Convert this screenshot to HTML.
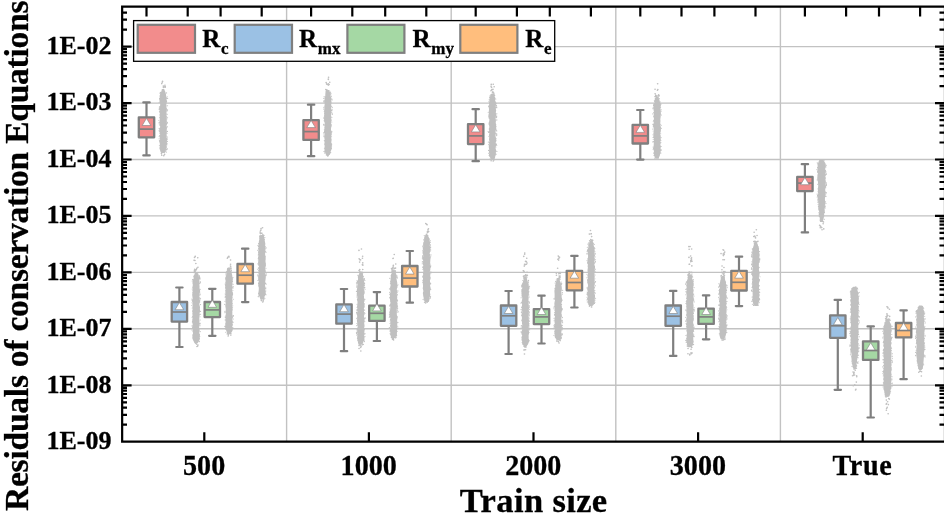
<!DOCTYPE html><html><head><meta charset="utf-8"><title>Residuals of conservation Equations</title>
<style>html,body{margin:0;padding:0;background:#fff;overflow:hidden}svg{display:block}text{font-family:"Liberation Serif","Times New Roman",serif;font-weight:bold;fill:#000;stroke:#000;stroke-width:.3px}</style></head><body>
<svg width="944" height="524" viewBox="0 0 944 524">
<rect width="944" height="524" fill="#fff"/>
<path d="M122.0 385.3H944M122.0 328.8H944M122.0 272.4H944M122.0 215.9H944M122.0 159.5H944M122.0 103.1H944M122.0 46.6H944M286.6 6.6V441.7M451.2 6.6V441.7M615.8 6.6V441.7M780.4 6.6V441.7" stroke="#C2C2C2" stroke-width="1.4" fill="none"/>
<path d="M161.8 89.0L161.6 90.5L161.1 92.0L160.3 93.6L159.9 95.1L159.6 96.6L159.7 98.1L159.4 99.7L159.9 101.2L159.8 102.7L160.2 104.2L160.1 105.8L159.4 107.3L159.6 108.8L159.5 110.3L159.9 111.9L159.8 113.4L159.4 114.9L159.9 116.4L159.6 118.0L159.7 119.5L160.0 121.0L159.5 122.5L159.8 124.0L160.0 125.6L160.2 127.1L159.7 128.6L159.4 130.1L159.3 131.7L160.0 133.2L160.1 134.7L159.9 136.2L159.8 137.8L160.1 139.3L159.7 140.8L159.4 142.3L159.9 143.9L160.0 145.4L159.6 146.9L159.4 148.4L160.0 150.0L160.4 151.5L161.3 153.0L164.6 153.0L165.9 151.5L165.8 150.0L166.6 148.4L166.9 146.9L166.6 145.4L167.2 143.9L166.9 142.3L166.9 140.8L167.2 139.3L166.7 137.8L166.8 136.2L166.6 134.7L166.8 133.2L166.9 131.7L166.7 130.1L167.0 128.6L166.4 127.1L166.6 125.6L167.1 124.0L166.8 122.5L166.9 121.0L166.6 119.5L166.8 118.0L166.7 116.4L166.5 114.9L166.4 113.4L166.6 111.9L166.8 110.3L167.0 108.8L166.4 107.3L166.6 105.8L166.3 104.2L166.7 102.7L167.2 101.2L166.5 99.7L167.0 98.1L166.1 96.6L166.1 95.1L165.8 93.6L165.4 92.0L164.7 90.5L164.2 89.0ZM195.0 272.5L194.7 274.0L193.7 275.5L193.5 277.0L193.7 278.5L192.6 280.0L192.7 281.5L192.4 283.0L192.8 284.6L192.7 286.1L192.2 287.6L192.8 289.1L192.3 290.6L192.9 292.1L192.3 293.6L192.2 295.1L192.4 296.6L192.6 298.1L192.9 299.6L192.3 301.1L192.7 302.6L192.3 304.1L192.8 305.6L192.3 307.1L192.8 308.7L192.3 310.2L192.3 311.7L192.6 313.2L192.7 314.7L192.4 316.2L192.7 317.7L192.3 319.2L192.2 320.7L192.5 322.2L192.9 323.7L192.7 325.2L192.5 326.7L192.4 328.2L192.9 329.7L192.4 331.2L193.0 332.8L192.9 334.3L192.6 335.8L192.6 337.3L192.9 338.8L193.1 340.3L193.9 341.8L194.5 343.3L197.6 343.3L198.7 341.8L199.4 340.3L200.0 338.8L199.7 337.3L200.0 335.8L199.6 334.3L199.3 332.8L199.6 331.2L199.7 329.7L199.2 328.2L199.2 326.7L199.4 325.2L199.5 323.7L199.5 322.2L199.4 320.7L199.3 319.2L199.4 317.7L199.3 316.2L200.0 314.7L199.5 313.2L200.0 311.7L200.0 310.2L199.9 308.7L200.0 307.1L199.6 305.6L199.3 304.1L199.8 302.6L200.0 301.1L199.4 299.6L200.0 298.1L199.3 296.6L199.9 295.1L199.4 293.6L200.1 292.1L200.1 290.6L199.7 289.1L199.5 287.6L199.6 286.1L199.2 284.6L199.5 283.0L199.5 281.5L199.3 280.0L199.3 278.5L198.7 277.0L198.8 275.5L198.4 274.0L197.1 272.5ZM228.2 269.0L226.9 270.5L226.9 272.0L226.9 273.5L226.3 275.0L225.8 276.6L225.1 278.1L225.3 279.6L225.7 281.1L225.2 282.6L225.7 284.1L225.2 285.6L225.6 287.1L225.4 288.7L225.6 290.2L225.4 291.7L226.0 293.2L225.9 294.7L225.3 296.2L226.0 297.7L225.4 299.2L225.5 300.7L225.5 302.3L225.7 303.8L225.3 305.3L225.4 306.8L225.7 308.3L225.8 309.8L225.6 311.3L226.0 312.8L225.8 314.3L225.3 315.9L225.4 317.4L225.5 318.9L225.3 320.4L225.7 321.9L225.2 323.4L225.3 324.9L225.2 326.4L225.2 328.0L226.0 329.5L226.3 331.0L227.0 332.5L227.2 334.0L231.0 334.0L231.3 332.5L232.4 331.0L232.8 329.5L232.5 328.0L232.1 326.4L233.0 324.9L232.5 323.4L233.0 321.9L232.5 320.4L232.3 318.9L233.0 317.4L232.8 315.9L232.3 314.3L232.4 312.8L232.3 311.3L232.8 309.8L232.3 308.3L232.5 306.8L232.1 305.3L232.9 303.8L232.3 302.3L232.7 300.7L232.1 299.2L232.7 297.7L232.3 296.2L232.5 294.7L232.7 293.2L232.5 291.7L232.1 290.2L232.3 288.7L232.6 287.1L232.2 285.6L232.7 284.1L232.3 282.6L232.4 281.1L232.9 279.6L232.8 278.1L232.3 276.6L232.2 275.0L231.8 273.5L231.4 272.0L230.6 270.5L230.1 269.0ZM260.7 235.0L259.7 236.5L259.4 238.0L259.4 239.5L258.9 241.0L258.8 242.5L258.6 244.0L258.4 245.5L258.6 247.0L258.2 248.5L258.7 250.0L258.2 251.5L258.1 253.0L258.4 254.5L258.4 256.0L258.0 257.5L258.1 259.0L258.7 260.5L258.0 262.0L258.3 263.5L258.1 265.0L258.9 266.5L258.7 268.1L258.9 269.6L258.9 271.1L258.1 272.6L258.8 274.1L258.3 275.6L258.1 277.1L258.2 278.6L258.1 280.1L258.8 281.6L258.2 283.1L258.3 284.6L258.2 286.1L258.8 287.6L258.8 289.1L258.7 290.6L258.5 292.1L258.3 293.6L258.6 295.1L259.4 296.6L260.0 298.1L260.3 299.6L263.8 299.6L264.5 298.1L264.5 296.6L265.4 295.1L265.8 293.6L265.6 292.1L265.1 290.6L265.2 289.1L265.6 287.6L265.1 286.1L265.0 284.6L265.5 283.1L265.2 281.6L265.5 280.1L265.7 278.6L265.8 277.1L265.7 275.6L265.1 274.1L265.7 272.6L265.8 271.1L265.4 269.6L265.2 268.1L265.7 266.5L265.8 265.0L265.9 263.5L265.5 262.0L265.5 260.5L265.7 259.0L265.6 257.5L265.5 256.0L265.1 254.5L265.1 253.0L265.4 251.5L265.4 250.0L265.7 248.5L265.4 247.0L265.0 245.5L265.4 244.0L265.1 242.5L264.8 241.0L264.6 239.5L264.3 238.0L264.1 236.5L263.5 235.0ZM326.2 90.0L325.6 91.5L325.4 93.0L325.3 94.5L325.3 96.0L324.6 97.5L324.6 99.1L324.5 100.6L324.2 102.1L324.7 103.6L324.6 105.1L324.3 106.6L324.4 108.1L324.3 109.6L324.1 111.1L324.2 112.6L324.7 114.1L324.0 115.7L324.2 117.2L324.0 118.7L324.1 120.2L324.6 121.7L324.8 123.2L324.2 124.7L324.6 126.2L324.3 127.7L324.5 129.2L324.1 130.8L323.9 132.3L324.6 133.8L324.4 135.3L324.3 136.8L324.4 138.3L324.6 139.8L324.3 141.3L324.6 142.8L324.1 144.3L324.7 145.8L324.5 147.4L324.5 148.9L324.4 150.4L325.0 151.9L325.4 153.4L326.4 154.9L329.6 154.9L330.5 153.4L330.4 151.9L331.1 150.4L331.5 148.9L331.7 147.4L331.6 145.8L331.5 144.3L331.3 142.8L331.4 141.3L331.7 139.8L331.3 138.3L331.0 136.8L331.5 135.3L331.5 133.8L331.3 132.3L331.2 130.8L331.0 129.2L331.1 127.7L331.6 126.2L331.8 124.7L331.0 123.2L331.0 121.7L331.8 120.2L331.2 118.7L331.4 117.2L331.1 115.7L331.0 114.1L331.5 112.6L331.1 111.1L331.7 109.6L331.0 108.1L331.6 106.6L331.1 105.1L331.5 103.6L331.0 102.1L331.2 100.6L331.6 99.1L331.1 97.5L330.5 96.0L330.3 94.5L330.4 93.0L329.4 91.5L329.5 90.0ZM359.3 272.5L359.1 274.0L358.1 275.5L357.8 277.0L358.1 278.5L357.9 280.0L356.8 281.5L357.3 283.0L357.7 284.5L357.2 286.0L357.4 287.5L356.9 289.0L356.8 290.5L356.9 292.0L356.9 293.5L356.9 295.0L357.4 296.5L357.5 298.0L356.8 299.5L357.4 301.0L357.5 302.5L357.4 304.0L357.2 305.5L357.0 307.0L357.4 308.6L356.8 310.1L357.5 311.6L357.1 313.1L356.9 314.6L357.2 316.1L357.1 317.6L357.2 319.1L356.9 320.6L357.1 322.1L357.4 323.6L357.1 325.1L357.7 326.6L357.3 328.1L356.9 329.6L357.4 331.1L357.1 332.6L357.7 334.1L357.3 335.6L357.2 337.1L357.1 338.6L357.5 340.1L358.1 341.6L357.9 343.1L359.1 344.6L362.4 344.6L363.0 343.1L363.5 341.6L364.5 340.1L364.4 338.6L364.6 337.1L364.1 335.6L364.5 334.1L364.3 332.6L364.5 331.1L364.7 329.6L364.1 328.1L364.5 326.6L364.5 325.1L364.2 323.6L364.4 322.1L364.5 320.6L364.4 319.1L364.3 317.6L363.9 316.1L364.6 314.6L364.5 313.1L363.9 311.6L364.4 310.1L363.8 308.6L364.7 307.0L364.6 305.5L364.4 304.0L363.9 302.5L364.6 301.0L364.5 299.5L364.0 298.0L364.0 296.5L363.8 295.0L364.6 293.5L364.7 292.0L364.4 290.5L363.8 289.0L364.0 287.5L363.9 286.0L364.2 284.5L364.6 283.0L364.1 281.5L363.9 280.0L363.7 278.5L363.0 277.0L363.0 275.5L363.0 274.0L362.0 272.5ZM392.1 271.0L392.0 272.5L391.3 274.0L390.6 275.6L390.9 277.1L390.5 278.6L390.6 280.1L390.0 281.7L390.5 283.2L390.5 284.7L390.6 286.2L390.1 287.8L390.0 289.3L390.3 290.8L390.5 292.3L389.7 293.8L389.9 295.4L389.9 296.9L389.9 298.4L390.1 299.9L390.1 301.5L390.6 303.0L389.7 304.5L390.3 306.0L390.3 307.5L390.4 309.1L389.8 310.6L389.7 312.1L389.7 313.6L390.0 315.2L389.8 316.7L390.5 318.2L389.8 319.7L390.5 321.2L390.2 322.8L390.5 324.3L389.9 325.8L390.4 327.3L390.1 328.9L389.9 330.4L390.2 331.9L390.6 333.4L390.7 335.0L390.8 336.5L391.8 338.0L395.3 338.0L395.9 336.5L396.9 335.0L396.9 333.4L397.0 331.9L397.0 330.4L397.3 328.9L397.0 327.3L397.4 325.8L397.2 324.3L397.5 322.8L397.1 321.2L397.2 319.7L397.5 318.2L397.6 316.7L396.9 315.2L396.8 313.6L396.9 312.1L396.8 310.6L396.7 309.1L397.3 307.5L397.5 306.0L397.5 304.5L397.6 303.0L396.7 301.5L397.6 299.9L397.1 298.4L397.3 296.9L397.0 295.4L396.8 293.8L397.3 292.3L397.0 290.8L396.8 289.3L397.2 287.8L397.0 286.2L397.2 284.7L397.3 283.2L397.1 281.7L396.7 280.1L396.5 278.6L396.6 277.1L396.4 275.6L396.3 274.0L395.4 272.5L394.7 271.0ZM425.4 235.0L424.5 236.5L424.1 238.0L424.1 239.6L424.1 241.1L423.3 242.6L423.1 244.1L423.1 245.7L423.3 247.2L422.7 248.7L423.3 250.2L422.6 251.8L422.7 253.3L423.2 254.8L423.3 256.3L422.8 257.8L422.7 259.4L423.3 260.9L422.8 262.4L422.7 263.9L423.3 265.5L422.9 267.0L423.0 268.5L423.2 270.0L423.4 271.5L422.9 273.1L423.2 274.6L422.6 276.1L423.0 277.6L423.0 279.2L422.7 280.7L422.8 282.2L422.8 283.7L423.0 285.2L423.0 286.8L422.7 288.3L423.1 289.8L423.4 291.3L422.8 292.9L423.1 294.4L423.2 295.9L423.6 297.4L423.8 299.0L424.5 300.5L425.0 302.0L428.3 302.0L429.3 300.5L429.6 299.0L429.6 297.4L430.1 295.9L430.4 294.4L430.0 292.9L430.1 291.3L430.2 289.8L430.3 288.3L430.3 286.8L430.1 285.2L430.2 283.7L430.1 282.2L429.9 280.7L430.4 279.2L430.5 277.6L430.2 276.1L430.4 274.6L430.3 273.1L429.8 271.5L430.4 270.0L430.2 268.5L430.4 267.0L430.0 265.5L429.9 263.9L430.2 262.4L430.3 260.9L430.4 259.4L430.4 257.8L429.8 256.3L430.2 254.8L429.6 253.3L430.2 251.8L430.3 250.2L430.4 248.7L430.2 247.2L429.7 245.7L430.0 244.1L430.2 242.6L429.5 241.1L429.5 239.6L429.1 238.0L428.4 236.5L427.9 235.0ZM491.3 93.8L490.6 95.3L489.9 96.9L489.5 98.4L489.3 99.9L489.4 101.5L488.8 103.0L489.2 104.5L488.5 106.0L488.7 107.6L489.0 109.1L488.9 110.6L488.8 112.2L488.8 113.7L488.5 115.2L488.7 116.8L489.1 118.3L489.4 119.8L489.2 121.3L488.6 122.9L488.6 124.4L489.3 125.9L489.3 127.5L488.7 129.0L489.2 130.5L488.9 132.1L489.4 133.6L488.9 135.1L489.3 136.6L489.1 138.2L489.0 139.7L489.4 141.2L488.9 142.8L489.4 144.3L488.8 145.8L488.8 147.4L489.1 148.9L489.2 150.4L488.8 151.9L489.3 153.5L488.9 155.0L489.3 156.5L490.4 158.1L491.0 159.6L494.3 159.6L495.0 158.1L495.2 156.5L495.8 155.0L495.8 153.5L495.9 151.9L496.2 150.4L495.7 148.9L495.6 147.4L496.0 145.8L496.0 144.3L495.7 142.8L496.1 141.2L496.3 139.7L496.1 138.2L495.6 136.6L495.5 135.1L495.9 133.6L495.5 132.1L495.7 130.5L496.4 129.0L496.0 127.5L496.1 125.9L496.3 124.4L495.7 122.9L495.9 121.3L495.9 119.8L495.5 118.3L495.8 116.8L496.3 115.2L496.0 113.7L495.8 112.2L496.2 110.6L495.8 109.1L496.0 107.6L495.7 106.0L496.2 104.5L496.3 103.0L495.6 101.5L495.0 99.9L495.5 98.4L495.0 96.9L493.9 95.3L494.2 93.8ZM524.5 276.5L523.1 278.0L523.6 279.5L523.1 281.0L522.7 282.5L521.8 284.1L521.5 285.6L522.2 287.1L522.2 288.6L521.4 290.1L522.1 291.6L521.4 293.1L521.6 294.6L521.5 296.1L522.3 297.7L522.2 299.2L521.8 300.7L521.8 302.2L522.0 303.7L522.1 305.2L521.5 306.7L521.8 308.2L521.7 309.7L522.3 311.2L522.1 312.8L521.6 314.3L521.5 315.8L521.9 317.3L521.9 318.8L521.4 320.3L522.0 321.8L521.9 323.3L522.3 324.8L522.0 326.4L521.7 327.9L522.3 329.4L521.7 330.9L521.5 332.4L521.4 333.9L522.2 335.4L521.9 336.9L521.6 338.4L521.5 340.0L522.2 341.5L522.0 343.0L522.8 344.5L523.8 346.0L526.8 346.0L527.9 344.5L528.5 343.0L529.1 341.5L529.2 340.0L528.6 338.4L528.7 336.9L528.6 335.4L528.9 333.9L529.3 332.4L528.8 330.9L528.7 329.4L528.8 327.9L528.8 326.4L529.2 324.8L529.0 323.3L528.9 321.8L529.0 320.3L528.7 318.8L528.8 317.3L528.4 315.8L528.6 314.3L528.6 312.8L529.2 311.2L528.6 309.7L529.2 308.2L528.7 306.7L528.9 305.2L528.5 303.7L528.6 302.2L528.5 300.7L528.5 299.2L528.7 297.7L528.4 296.1L528.8 294.6L528.9 293.1L529.0 291.6L528.6 290.1L529.3 288.6L529.0 287.1L528.7 285.6L528.7 284.1L527.9 282.5L527.6 281.0L527.1 279.5L526.8 278.0L526.5 276.5ZM557.2 279.0L556.8 280.5L555.8 282.0L555.8 283.5L555.1 285.0L555.3 286.5L555.1 288.0L554.6 289.5L554.4 291.0L554.5 292.5L554.6 294.0L554.6 295.5L554.6 297.0L554.4 298.5L555.0 300.0L554.7 301.5L554.4 303.0L554.7 304.5L554.3 306.0L554.7 307.5L554.7 309.0L554.4 310.6L555.0 312.1L554.9 313.6L554.3 315.1L555.1 316.6L554.5 318.1L554.5 319.6L554.5 321.1L554.6 322.6L554.8 324.1L554.5 325.6L554.6 327.1L555.2 328.6L555.0 330.1L554.5 331.6L554.4 333.1L555.0 334.6L554.6 336.1L554.9 337.6L556.1 339.1L556.6 340.6L560.0 340.6L561.1 339.1L560.9 337.6L561.8 336.1L561.9 334.6L561.3 333.1L561.4 331.6L561.8 330.1L562.1 328.6L561.8 327.1L562.2 325.6L561.3 324.1L561.5 322.6L561.8 321.1L561.4 319.6L561.4 318.1L561.6 316.6L561.9 315.1L561.4 313.6L561.6 312.1L562.0 310.6L562.1 309.0L561.9 307.5L561.8 306.0L561.3 304.5L561.4 303.0L562.0 301.5L562.0 300.0L562.0 298.5L561.6 297.0L561.7 295.5L561.5 294.0L561.4 292.5L561.3 291.0L561.8 289.5L561.8 288.0L561.7 286.5L561.1 285.0L561.0 283.5L560.3 282.0L559.8 280.5L559.9 279.0ZM589.4 240.4L589.4 241.9L589.2 243.4L588.2 245.0L588.4 246.5L588.2 248.0L587.3 249.5L587.2 251.1L587.8 252.6L587.7 254.1L588.1 255.6L588.0 257.2L587.7 258.7L588.0 260.2L588.0 261.7L587.4 263.2L587.9 264.8L587.6 266.3L587.9 267.8L587.6 269.3L587.5 270.9L587.8 272.4L587.9 273.9L588.0 275.4L587.4 277.0L588.0 278.5L587.2 280.0L587.4 281.5L587.4 283.1L587.9 284.6L588.0 286.1L587.4 287.6L587.4 289.1L587.5 290.7L588.1 292.2L587.5 293.7L587.8 295.2L587.5 296.8L587.8 298.3L587.7 299.8L587.9 301.3L588.0 302.9L588.8 304.4L589.2 305.9L592.3 305.9L593.9 304.4L594.0 302.9L594.9 301.3L594.7 299.8L594.9 298.3L595.0 296.8L595.0 295.2L594.5 293.7L595.0 292.2L594.2 290.7L594.3 289.1L595.0 287.6L594.3 286.1L594.8 284.6L594.9 283.1L594.6 281.5L594.7 280.0L594.3 278.5L594.8 277.0L594.5 275.4L594.6 273.9L594.3 272.4L595.0 270.9L594.6 269.3L595.0 267.8L595.0 266.3L594.3 264.8L594.9 263.2L594.3 261.7L594.8 260.2L594.9 258.7L594.3 257.2L595.0 255.6L594.5 254.1L594.5 252.6L594.7 251.1L594.6 249.5L594.7 248.0L594.0 246.5L593.6 245.0L593.3 243.4L593.1 241.9L592.3 240.4ZM656.1 96.7L654.9 98.2L654.7 99.7L654.2 101.2L654.6 102.7L653.4 104.3L653.2 105.8L653.6 107.3L653.5 108.8L653.6 110.3L653.9 111.8L653.8 113.3L653.9 114.8L653.1 116.4L653.9 117.9L653.9 119.4L653.9 120.9L653.7 122.4L653.4 123.9L653.4 125.4L653.5 126.9L653.7 128.5L653.8 130.0L654.0 131.5L653.3 133.0L653.5 134.5L653.3 136.0L653.9 137.5L653.8 139.0L653.9 140.6L653.6 142.1L653.8 143.6L653.7 145.1L653.6 146.6L653.2 148.1L653.7 149.6L653.9 151.1L653.9 152.7L654.1 154.2L653.9 155.7L655.0 157.2L655.2 158.7L658.8 158.7L659.0 157.2L659.8 155.7L660.1 154.2L660.7 152.7L660.5 151.1L660.6 149.6L660.6 148.1L661.0 146.6L660.4 145.1L660.4 143.6L660.2 142.1L660.8 140.6L660.8 139.0L660.4 137.5L660.9 136.0L660.1 134.5L660.3 133.0L660.8 131.5L660.9 130.0L660.9 128.5L661.0 126.9L660.2 125.4L660.4 123.9L660.3 122.4L660.5 120.9L660.3 119.4L660.5 117.9L660.7 116.4L660.7 114.8L660.9 113.3L660.8 111.8L660.7 110.3L660.5 108.8L660.6 107.3L660.7 105.8L659.9 104.3L660.2 102.7L659.7 101.2L659.5 99.7L658.8 98.2L658.7 96.7ZM688.4 275.1L687.8 276.6L687.8 278.1L687.4 279.6L686.8 281.1L686.5 282.6L686.8 284.1L686.1 285.6L686.7 287.1L686.4 288.6L686.7 290.1L686.2 291.6L686.2 293.2L686.7 294.7L686.6 296.2L686.4 297.7L686.9 299.2L686.1 300.7L686.2 302.2L686.1 303.7L686.3 305.2L686.6 306.7L686.4 308.2L686.5 309.7L686.3 311.2L686.5 312.7L686.5 314.2L686.3 315.7L686.9 317.2L686.4 318.7L686.2 320.2L686.6 321.7L686.6 323.2L686.3 324.7L686.4 326.2L686.7 327.7L686.8 329.2L686.3 330.8L686.9 332.3L686.9 333.8L686.4 335.3L686.7 336.8L686.6 338.3L686.4 339.8L686.9 341.3L686.9 342.8L687.0 344.3L687.6 345.8L688.3 347.3L691.5 347.3L692.5 345.8L693.2 344.3L693.0 342.8L693.6 341.3L693.3 339.8L693.3 338.3L693.3 336.8L693.1 335.3L693.5 333.8L693.1 332.3L693.9 330.8L693.4 329.2L693.9 327.7L693.3 326.2L693.8 324.7L693.2 323.2L693.1 321.7L693.7 320.2L693.9 318.7L693.6 317.2L693.8 315.7L693.2 314.2L693.4 312.7L693.5 311.2L693.6 309.7L693.4 308.2L693.5 306.7L693.6 305.2L693.3 303.7L693.1 302.2L693.7 300.7L693.8 299.2L693.7 297.7L693.1 296.2L693.9 294.7L693.1 293.2L693.5 291.6L693.7 290.1L693.1 288.6L693.2 287.1L693.3 285.6L693.9 284.1L693.1 282.6L692.9 281.1L692.4 279.6L692.1 278.1L692.1 276.6L691.6 275.1ZM721.7 276.0L720.6 277.5L720.8 279.0L720.3 280.5L720.1 282.0L719.7 283.5L719.2 285.0L719.6 286.6L719.7 288.1L719.8 289.6L719.0 291.1L718.9 292.6L719.1 294.1L719.4 295.6L719.5 297.1L719.5 298.6L719.3 300.1L718.9 301.6L719.8 303.1L719.2 304.6L719.6 306.1L719.6 307.6L719.0 309.2L719.7 310.7L719.0 312.2L719.0 313.7L719.2 315.2L719.4 316.7L719.3 318.2L718.9 319.7L719.4 321.2L719.6 322.7L719.0 324.2L719.5 325.7L719.0 327.2L718.9 328.8L719.4 330.3L719.7 331.8L719.5 333.3L719.4 334.8L719.7 336.3L720.4 337.8L720.9 339.3L724.6 339.3L724.8 337.8L725.5 336.3L725.9 334.8L726.1 333.3L726.5 331.8L726.7 330.3L725.9 328.8L726.4 327.2L726.7 325.7L725.9 324.2L726.7 322.7L726.2 321.2L726.7 319.7L726.6 318.2L726.8 316.7L726.8 315.2L726.3 313.7L726.5 312.2L726.6 310.7L726.2 309.2L726.4 307.6L726.0 306.1L726.4 304.6L726.1 303.1L726.0 301.6L726.4 300.1L726.4 298.6L726.7 297.1L726.7 295.6L726.1 294.1L726.8 292.6L726.3 291.1L726.7 289.6L726.4 288.1L726.2 286.6L726.7 285.0L725.9 283.5L726.1 282.0L725.3 280.5L724.9 279.0L725.0 277.5L724.1 276.0ZM754.7 241.7L753.7 243.2L753.9 244.8L753.4 246.3L753.0 247.8L752.2 249.3L752.4 250.9L752.4 252.4L752.1 253.9L752.6 255.5L752.2 257.0L752.5 258.5L752.2 260.0L752.2 261.6L752.2 263.1L752.5 264.6L752.4 266.2L752.7 267.7L752.5 269.2L752.4 270.7L752.0 272.3L751.8 273.8L751.9 275.3L752.6 276.9L752.2 278.4L752.4 279.9L752.1 281.4L752.0 283.0L752.5 284.5L752.0 286.0L752.1 287.6L752.6 289.1L752.5 290.6L752.6 292.1L752.6 293.7L752.7 295.2L752.4 296.7L752.6 298.3L751.9 299.8L752.6 301.3L753.0 302.8L753.3 304.4L754.6 305.9L757.7 305.9L758.5 304.4L758.5 302.8L759.3 301.3L759.6 299.8L759.2 298.3L759.3 296.7L759.5 295.2L759.4 293.7L759.0 292.1L759.0 290.6L759.2 289.1L758.9 287.6L759.3 286.0L758.9 284.5L758.9 283.0L759.6 281.4L759.5 279.9L759.2 278.4L758.8 276.9L759.6 275.3L759.2 273.8L759.5 272.3L759.1 270.7L758.9 269.2L759.3 267.7L758.8 266.2L758.9 264.6L758.9 263.1L759.7 261.6L759.6 260.0L759.5 258.5L759.3 257.0L759.7 255.5L759.6 253.9L759.1 252.4L759.0 250.9L759.0 249.3L758.8 247.8L758.1 246.3L757.9 244.8L757.2 243.2L756.7 241.7ZM820.0 160.0L818.6 161.5L818.2 163.0L817.5 164.5L817.7 166.0L817.4 167.6L817.5 169.1L817.8 170.6L817.5 172.1L817.9 173.6L817.4 175.1L817.4 176.6L817.4 178.1L817.4 179.7L817.8 181.2L818.0 182.7L818.1 184.2L818.2 185.7L818.1 187.2L817.6 188.7L818.0 190.2L817.6 191.8L818.2 193.3L817.9 194.8L817.4 196.3L818.0 197.8L817.8 199.3L818.2 200.8L818.1 202.3L818.5 203.9L818.4 205.4L818.3 206.9L818.2 208.4L818.6 209.9L819.1 211.4L819.2 212.9L818.7 214.4L819.4 216.0L819.8 217.5L819.8 219.0L819.6 220.5L820.1 222.0L823.1 222.0L823.1 220.5L823.5 219.0L823.8 217.5L824.4 216.0L824.1 214.4L824.3 212.9L824.8 211.4L824.7 209.9L824.5 208.4L825.1 206.9L824.9 205.4L825.3 203.9L825.1 202.3L825.1 200.8L824.9 199.3L825.0 197.8L825.4 196.3L825.2 194.8L825.7 193.3L825.6 191.8L825.2 190.2L825.3 188.7L825.6 187.2L825.8 185.7L825.5 184.2L825.6 182.7L825.9 181.2L825.4 179.7L825.9 178.1L825.3 176.6L825.8 175.1L825.3 173.6L825.9 172.1L825.5 170.6L825.2 169.1L825.5 167.6L825.8 166.0L825.8 164.5L825.3 163.0L824.2 161.5L823.2 160.0ZM853.3 286.7L852.0 288.2L851.5 289.7L850.8 291.2L850.3 292.7L850.3 294.2L850.5 295.7L851.0 297.2L851.0 298.7L850.6 300.2L850.5 301.8L850.9 303.3L850.4 304.8L851.0 306.3L850.8 307.8L850.3 309.3L850.6 310.8L850.6 312.3L851.1 313.8L850.9 315.3L850.4 316.8L850.6 318.3L850.4 319.8L850.5 321.3L850.7 322.8L850.9 324.3L851.0 325.8L850.4 327.4L850.9 328.9L850.6 330.4L850.3 331.9L850.6 333.4L850.9 334.9L850.9 336.4L850.9 337.9L850.4 339.4L850.6 340.9L850.7 342.4L850.6 343.9L850.9 345.4L850.9 346.9L850.9 348.4L850.5 349.9L850.8 351.4L851.4 352.9L851.5 354.4L851.5 356.0L851.3 357.5L851.6 359.0L851.5 360.5L852.3 362.0L851.8 363.5L852.4 365.0L852.6 366.5L852.9 368.0L856.2 368.0L856.5 366.5L856.5 365.0L856.6 363.5L857.0 362.0L857.0 360.5L857.4 359.0L857.2 357.5L858.1 356.0L857.8 354.4L858.1 352.9L858.4 351.4L858.5 349.9L858.5 348.4L858.5 346.9L858.2 345.4L858.0 343.9L858.2 342.4L858.3 340.9L858.6 339.4L858.1 337.9L858.3 336.4L858.2 334.9L858.5 333.4L858.8 331.9L858.5 330.4L858.6 328.9L858.3 327.4L858.3 325.8L858.7 324.3L858.0 322.8L858.5 321.3L858.9 319.8L858.2 318.3L858.6 316.8L858.7 315.3L858.3 313.8L858.2 312.3L858.7 310.8L858.6 309.3L858.8 307.8L858.5 306.3L858.1 304.8L858.7 303.3L858.8 301.8L858.7 300.2L858.9 298.7L858.8 297.2L858.3 295.7L858.1 294.2L858.6 292.7L857.7 291.2L857.1 289.7L857.2 288.2L856.2 286.7ZM886.0 318.8L885.2 320.3L885.4 321.8L884.5 323.3L884.2 324.9L883.3 326.4L883.5 327.9L883.6 329.4L883.5 330.9L883.2 332.4L883.3 333.9L883.6 335.5L883.9 337.0L883.6 338.5L883.6 340.0L883.5 341.5L883.5 343.0L883.5 344.5L883.2 346.0L884.0 347.6L883.7 349.1L883.5 350.6L883.4 352.1L883.1 353.6L883.6 355.1L883.3 356.6L883.9 358.2L883.3 359.7L883.6 361.2L883.5 362.7L883.9 364.2L883.3 365.7L883.8 367.2L883.7 368.8L883.3 370.3L883.3 371.8L883.8 373.3L883.1 374.8L883.8 376.3L883.5 377.8L883.1 379.3L883.8 380.9L883.2 382.4L883.2 383.9L883.5 385.4L883.7 386.9L883.4 388.4L883.7 389.9L884.7 391.5L884.5 393.0L884.8 394.5L886.2 396.0L889.4 396.0L890.0 394.5L890.6 393.0L890.4 391.5L890.4 389.9L891.4 388.4L891.3 386.9L891.2 385.4L890.9 383.9L891.1 382.4L891.4 380.9L891.7 379.3L891.0 377.8L891.0 376.3L891.7 374.8L891.3 373.3L891.2 371.8L891.5 370.3L891.1 368.8L891.5 367.2L891.0 365.7L891.5 364.2L891.4 362.7L891.3 361.2L891.3 359.7L891.1 358.2L891.6 356.6L890.9 355.1L891.4 353.6L891.5 352.1L891.1 350.6L891.2 349.1L891.6 347.6L891.0 346.0L891.2 344.5L891.7 343.0L891.0 341.5L891.7 340.0L891.5 338.5L891.6 337.0L890.9 335.5L891.0 333.9L891.3 332.4L891.5 330.9L891.3 329.4L891.1 327.9L891.6 326.4L891.0 324.9L890.3 323.3L889.7 321.8L889.8 320.3L888.4 318.8ZM919.0 305.4L918.1 306.9L917.8 308.4L917.0 309.9L916.4 311.4L916.6 312.9L916.6 314.4L916.3 315.9L916.8 317.4L916.4 318.9L916.7 320.4L916.3 321.9L916.6 323.4L916.7 324.9L916.7 326.4L916.7 327.9L916.3 329.4L916.0 330.9L916.0 332.4L916.3 333.9L916.3 335.4L916.7 336.9L916.7 338.5L916.0 340.0L916.2 341.5L916.0 343.0L916.6 344.5L916.6 346.0L916.7 347.5L916.2 349.0L916.5 350.5L916.2 352.0L916.3 353.5L916.3 355.0L916.5 356.5L916.7 358.0L916.9 359.5L916.6 361.0L917.2 362.5L917.7 364.0L917.4 365.5L918.1 367.0L918.0 368.5L919.2 370.0L921.5 370.0L922.9 368.5L922.9 367.0L923.3 365.5L923.7 364.0L923.4 362.5L923.6 361.0L923.7 359.5L923.8 358.0L924.0 356.5L924.5 355.0L923.9 353.5L924.1 352.0L924.5 350.5L924.3 349.0L924.4 347.5L924.2 346.0L924.5 344.5L924.0 343.0L924.2 341.5L924.5 340.0L924.2 338.5L924.3 336.9L924.0 335.4L924.5 333.9L924.3 332.4L924.6 330.9L924.7 329.4L924.7 327.9L924.3 326.4L924.1 324.9L924.1 323.4L924.0 321.9L924.4 320.4L924.6 318.9L923.8 317.4L924.0 315.9L923.9 314.4L924.3 312.9L924.5 311.4L923.6 309.9L923.2 308.4L922.7 306.9L921.8 305.4Z" fill="#C0C0C0"/>
<path d="M166.5 114.0h.1M167.5 117.7h.1M167.3 141.4h.1M166.3 152.1h.1M159.9 98.7h.1M159.5 131.1h.1M166.8 126.7h.1M167.2 98.3h.1M159.2 109.4h.1M159.5 122.0h.1M166.9 144.7h.1M167.2 114.2h.1M159.9 93.0h.1M159.6 117.2h.1M160.6 92.4h.1M167.2 123.3h.1M160.2 93.5h.1M167.6 98.5h.1M166.6 127.5h.1M167.0 143.3h.1M159.9 109.0h.1M167.0 110.9h.1M159.8 133.3h.1M166.1 149.9h.1M159.1 123.8h.1M159.2 108.1h.1M167.5 105.7h.1M159.4 111.8h.1M167.2 138.9h.1M159.1 128.2h.1M159.8 141.4h.1M158.9 120.5h.1M166.8 139.6h.1M167.0 133.3h.1M167.3 149.0h.1M159.9 112.3h.1M166.7 119.1h.1M159.5 128.9h.1M159.0 130.8h.1M167.1 96.7h.1M167.5 137.0h.1M166.6 116.8h.1M166.6 149.6h.1M159.2 136.6h.1M160.0 99.9h.1M167.4 126.8h.1M167.2 98.4h.1M160.0 111.4h.1M159.4 140.2h.1M167.4 148.8h.1M160.0 101.5h.1M159.1 102.6h.1M167.5 109.9h.1M166.5 92.9h.1M167.4 131.4h.1M159.4 145.2h.1M159.0 122.5h.1M159.1 138.7h.1M159.5 98.6h.1M159.7 135.4h.1M167.4 122.2h.1M160.2 95.8h.1M159.4 106.7h.1M159.5 125.0h.1M194.0 276.4h.1M199.9 316.8h.1M199.3 276.4h.1M200.1 320.0h.1M192.4 321.5h.1M199.4 283.7h.1M200.5 298.3h.1M192.9 311.2h.1M192.5 335.0h.1M197.3 272.6h.1M192.7 292.2h.1M192.6 327.5h.1M199.5 278.9h.1M199.7 300.4h.1M192.2 289.0h.1M200.3 323.2h.1M199.5 323.5h.1M192.9 323.8h.1M200.2 331.6h.1M191.9 330.0h.1M192.0 325.8h.1M192.8 313.9h.1M199.2 275.5h.1M200.0 299.2h.1M192.4 316.9h.1M194.1 272.7h.1M192.2 308.1h.1M198.8 277.2h.1M198.9 277.8h.1M192.1 326.1h.1M199.4 341.6h.1M199.5 277.9h.1M192.9 316.2h.1M200.1 282.9h.1M192.9 321.6h.1M199.5 276.8h.1M192.5 279.5h.1M199.9 293.1h.1M191.8 305.5h.1M200.5 311.4h.1M192.7 338.8h.1M199.8 277.9h.1M192.9 299.9h.1M200.0 278.9h.1M200.4 281.9h.1M192.4 322.3h.1M199.4 334.5h.1M198.1 272.8h.1M192.5 301.2h.1M191.9 299.1h.1M198.2 272.6h.1M192.2 281.0h.1M199.7 336.3h.1M199.6 277.1h.1M200.5 314.2h.1M192.6 326.0h.1M199.0 276.2h.1M199.9 283.0h.1M200.3 294.8h.1M192.0 302.8h.1M192.1 317.2h.1M198.7 276.0h.1M199.9 325.8h.1M192.7 337.1h.1M199.7 301.9h.1M199.8 324.8h.1M200.0 289.4h.1M192.2 300.4h.1M199.3 277.8h.1M200.5 304.6h.1M225.5 317.5h.1M233.4 316.1h.1M225.8 297.8h.1M232.8 287.2h.1M225.4 326.5h.1M233.2 319.0h.1M225.0 297.1h.1M232.5 281.7h.1M232.3 292.7h.1M232.3 295.7h.1M226.4 271.3h.1M226.0 273.0h.1M232.7 327.4h.1M225.5 290.8h.1M233.4 315.6h.1M225.8 288.3h.1M233.1 284.2h.1M233.2 299.3h.1M232.4 328.4h.1M224.9 301.3h.1M225.1 317.0h.1M232.8 290.3h.1M225.2 319.9h.1M225.6 294.5h.1M226.3 273.2h.1M224.7 304.4h.1M225.5 326.4h.1M226.1 274.5h.1M231.1 333.2h.1M232.9 277.6h.1M224.9 312.8h.1M232.9 288.1h.1M232.5 293.2h.1M225.6 285.1h.1M225.5 287.3h.1M225.2 294.7h.1M225.1 284.0h.1M227.3 333.4h.1M224.8 326.4h.1M224.8 328.4h.1M225.6 284.1h.1M225.7 332.2h.1M225.3 293.2h.1M225.7 285.9h.1M232.5 307.7h.1M225.8 293.0h.1M227.0 334.0h.1M224.9 311.4h.1M233.1 322.2h.1M232.3 281.0h.1M231.4 271.0h.1M225.9 273.1h.1M225.1 312.2h.1M226.0 274.9h.1M233.1 286.6h.1M225.5 296.2h.1M232.7 305.8h.1M231.3 270.2h.1M232.5 294.4h.1M227.4 269.4h.1M232.9 322.3h.1M225.7 292.7h.1M226.3 272.4h.1M225.2 328.1h.1M225.7 329.3h.1M265.8 252.1h.1M258.2 258.3h.1M258.4 246.4h.1M265.9 268.3h.1M264.8 298.6h.1M258.6 283.3h.1M265.7 274.8h.1M258.6 258.5h.1M258.7 249.7h.1M263.4 235.2h.1M258.3 268.8h.1M258.5 254.5h.1M265.3 275.3h.1M259.7 235.9h.1M258.0 264.1h.1M265.6 291.3h.1M258.7 252.1h.1M265.9 288.0h.1M265.4 272.4h.1M258.7 293.4h.1M260.1 236.6h.1M259.8 238.8h.1M258.6 270.6h.1M266.1 247.9h.1M265.2 246.3h.1M266.0 275.4h.1M264.0 235.4h.1M265.4 265.1h.1M263.7 299.4h.1M264.8 237.5h.1M266.0 294.8h.1M266.0 252.2h.1M265.5 294.3h.1M258.8 295.0h.1M258.4 267.8h.1M257.6 250.3h.1M265.4 283.2h.1M258.3 260.1h.1M265.7 290.0h.1M257.7 269.3h.1M258.1 263.2h.1M258.3 254.9h.1M258.6 272.8h.1M259.6 236.7h.1M257.9 245.5h.1M259.5 237.0h.1M257.9 275.9h.1M264.4 239.2h.1M258.3 296.7h.1M265.3 283.8h.1M258.7 248.3h.1M258.2 296.3h.1M265.7 275.8h.1M258.5 243.6h.1M265.2 256.7h.1M265.2 251.6h.1M266.1 284.1h.1M266.2 273.9h.1M257.8 274.9h.1M259.9 237.0h.1M257.9 280.5h.1M265.4 288.5h.1M260.6 235.1h.1M258.7 283.5h.1M331.6 106.2h.1M329.9 91.3h.1M323.6 132.9h.1M324.2 111.3h.1M324.6 121.8h.1M323.8 125.3h.1M324.5 151.7h.1M331.2 96.6h.1M323.9 136.6h.1M331.5 143.8h.1M323.9 151.5h.1M323.8 101.9h.1M324.3 129.8h.1M324.6 114.8h.1M331.8 117.2h.1M331.2 133.8h.1M332.2 109.7h.1M323.5 124.2h.1M330.6 152.4h.1M323.8 98.4h.1M331.8 131.2h.1M324.2 136.8h.1M331.6 131.5h.1M323.7 109.1h.1M324.3 120.5h.1M332.2 114.4h.1M331.1 134.1h.1M331.5 136.8h.1M331.6 132.5h.1M323.9 117.8h.1M332.1 113.5h.1M330.9 93.7h.1M331.8 99.1h.1M326.2 91.0h.1M330.5 94.7h.1M324.1 96.6h.1M331.5 102.0h.1M332.0 99.9h.1M323.8 100.9h.1M331.3 148.0h.1M323.8 135.0h.1M324.0 118.5h.1M323.7 107.2h.1M324.1 120.7h.1M331.3 148.8h.1M324.5 100.7h.1M331.8 110.8h.1M331.6 144.6h.1M326.3 154.9h.1M324.6 113.4h.1M330.7 93.0h.1M331.0 96.1h.1M324.4 148.3h.1M324.2 117.0h.1M331.5 145.9h.1M324.3 140.5h.1M331.7 112.2h.1M331.5 143.7h.1M331.7 122.0h.1M332.2 107.6h.1M324.3 132.5h.1M331.2 110.6h.1M324.7 153.1h.1M330.3 92.6h.1M357.2 331.3h.1M357.2 282.6h.1M364.4 333.9h.1M364.3 278.6h.1M357.2 287.0h.1M363.5 276.7h.1M364.7 287.4h.1M362.6 273.2h.1M364.3 278.8h.1M365.0 289.3h.1M364.6 310.1h.1M357.3 287.1h.1M364.4 285.5h.1M364.9 313.2h.1M357.5 334.3h.1M363.3 344.4h.1M364.9 299.3h.1M357.1 283.8h.1M357.4 310.0h.1M364.7 287.3h.1M364.5 287.9h.1M357.6 340.7h.1M357.7 275.2h.1M357.5 299.8h.1M364.5 312.7h.1M356.5 333.5h.1M356.7 318.6h.1M364.1 279.0h.1M364.2 318.7h.1M365.1 333.8h.1M358.8 344.0h.1M363.8 340.4h.1M356.5 312.4h.1M362.8 275.9h.1M356.4 282.9h.1M364.7 321.3h.1M357.0 304.3h.1M364.1 299.3h.1M357.0 307.2h.1M357.0 330.7h.1M357.4 338.3h.1M356.4 332.5h.1M356.6 335.0h.1M364.4 341.6h.1M365.1 317.8h.1M357.0 295.8h.1M357.2 317.8h.1M356.7 325.6h.1M357.0 312.4h.1M364.4 283.3h.1M364.6 283.7h.1M357.2 293.9h.1M364.8 280.4h.1M356.9 280.7h.1M356.9 329.3h.1M357.2 332.7h.1M364.5 287.0h.1M356.4 291.4h.1M364.1 279.5h.1M364.1 284.2h.1M364.9 318.6h.1M357.0 297.1h.1M364.2 329.4h.1M364.2 303.9h.1M356.5 313.7h.1M356.7 310.1h.1M356.6 286.7h.1M364.9 336.6h.1M356.8 285.1h.1M356.9 323.5h.1M356.7 287.1h.1M356.9 310.0h.1M396.0 336.0h.1M390.1 294.6h.1M397.2 292.8h.1M395.6 337.2h.1M391.4 272.5h.1M389.8 294.3h.1M397.7 326.9h.1M389.6 278.3h.1M389.9 316.4h.1M389.6 315.8h.1M397.8 312.3h.1M397.2 305.7h.1M390.0 313.3h.1M397.4 277.9h.1M397.3 310.3h.1M391.5 337.5h.1M390.0 323.5h.1M397.2 301.3h.1M397.3 294.6h.1M397.6 308.2h.1M395.3 271.5h.1M397.8 291.1h.1M397.5 300.2h.1M396.6 276.9h.1M389.3 327.5h.1M397.9 284.7h.1M391.0 335.0h.1M397.2 308.9h.1M397.5 306.9h.1M395.6 337.9h.1M397.4 295.0h.1M391.7 271.7h.1M397.0 277.6h.1M389.4 314.5h.1M396.6 335.6h.1M397.7 322.4h.1M390.2 321.0h.1M389.5 292.3h.1M389.7 305.3h.1M397.8 290.8h.1M396.2 337.3h.1M389.8 306.1h.1M390.4 283.6h.1M390.0 308.9h.1M391.2 337.6h.1M392.0 271.7h.1M389.3 317.3h.1M389.7 297.6h.1M390.2 315.8h.1M397.9 322.5h.1M389.8 331.0h.1M390.3 298.5h.1M390.4 305.7h.1M397.0 276.1h.1M389.7 312.1h.1M397.0 316.9h.1M397.1 287.0h.1M389.4 288.9h.1M390.4 334.5h.1M396.9 301.1h.1M397.5 285.7h.1M396.3 335.3h.1M390.4 287.0h.1M390.2 333.4h.1M397.2 331.2h.1M398.0 311.4h.1M396.7 275.5h.1M424.3 300.3h.1M430.6 256.3h.1M430.3 240.8h.1M423.0 276.2h.1M429.7 241.0h.1M430.4 257.8h.1M422.8 280.3h.1M422.8 269.3h.1M430.0 247.7h.1M422.7 246.0h.1M423.1 251.7h.1M423.1 258.3h.1M422.5 255.8h.1M430.0 267.6h.1M429.9 251.2h.1M429.9 277.9h.1M422.9 282.4h.1M430.7 289.6h.1M422.6 246.3h.1M430.7 265.9h.1M429.5 242.7h.1M423.3 267.6h.1M423.2 253.8h.1M423.2 255.7h.1M430.1 264.8h.1M423.3 272.4h.1M428.3 301.5h.1M429.9 283.0h.1M430.3 267.8h.1M429.8 287.5h.1M430.5 296.6h.1M430.4 297.7h.1M424.1 240.2h.1M423.0 261.5h.1M423.2 247.4h.1M430.6 283.2h.1M422.6 256.9h.1M422.9 258.9h.1M430.8 271.9h.1M423.3 252.0h.1M430.8 273.0h.1M429.9 298.3h.1M430.5 284.0h.1M422.5 277.0h.1M430.5 246.0h.1M422.3 261.9h.1M422.5 267.1h.1M427.8 235.2h.1M423.6 239.8h.1M429.8 263.2h.1M424.2 235.6h.1M429.8 246.0h.1M430.4 288.9h.1M430.4 266.4h.1M422.2 263.7h.1M423.1 299.4h.1M429.4 239.0h.1M430.9 254.9h.1M423.0 267.2h.1M422.3 258.0h.1M430.6 249.9h.1M430.4 244.8h.1M430.1 298.2h.1M430.1 272.8h.1M422.7 250.2h.1M430.2 242.5h.1M430.6 247.6h.1M496.0 103.3h.1M496.1 126.7h.1M488.1 131.5h.1M489.7 96.0h.1M488.8 144.7h.1M488.2 112.3h.1M489.1 155.6h.1M496.3 144.0h.1M496.7 135.6h.1M495.7 140.9h.1M496.7 116.0h.1M496.7 145.3h.1M495.8 147.0h.1M496.1 107.3h.1M496.8 119.9h.1M488.9 132.4h.1M495.7 114.1h.1M488.5 106.3h.1M496.8 113.8h.1M496.5 117.3h.1M496.0 154.5h.1M496.3 105.3h.1M495.9 143.7h.1M490.5 95.1h.1M496.7 107.0h.1M489.0 136.4h.1M489.6 97.5h.1M495.7 99.0h.1M494.3 94.1h.1M496.8 151.4h.1M496.7 107.8h.1M494.5 95.6h.1M495.9 138.5h.1M489.1 150.6h.1M496.8 134.1h.1M496.7 120.1h.1M494.7 95.5h.1M490.1 158.8h.1M495.8 140.5h.1M490.8 95.0h.1M488.8 144.3h.1M496.3 117.6h.1M488.5 132.5h.1M495.9 133.4h.1M496.6 134.5h.1M496.4 144.9h.1M496.3 130.0h.1M495.8 117.6h.1M493.8 94.4h.1M495.8 147.0h.1M496.6 135.2h.1M489.1 99.7h.1M488.8 101.8h.1M496.5 105.8h.1M488.6 153.2h.1M488.7 116.9h.1M488.5 150.4h.1M496.2 116.5h.1M489.1 115.1h.1M488.3 142.1h.1M495.7 153.9h.1M496.7 130.9h.1M489.2 118.5h.1M494.2 95.2h.1M496.6 117.1h.1M522.5 344.0h.1M529.2 321.5h.1M528.8 317.7h.1M529.0 320.3h.1M528.3 281.0h.1M528.6 323.6h.1M521.0 331.9h.1M529.6 329.7h.1M529.2 309.4h.1M521.0 309.6h.1M528.3 281.1h.1M528.8 313.2h.1M528.8 288.5h.1M522.1 342.3h.1M528.7 301.6h.1M529.0 287.2h.1M529.1 301.9h.1M528.3 282.6h.1M521.6 307.5h.1M521.2 309.7h.1M521.7 286.9h.1M521.4 312.7h.1M528.9 312.9h.1M521.5 315.2h.1M522.8 280.5h.1M528.9 314.4h.1M528.7 294.9h.1M521.9 320.7h.1M529.3 305.9h.1M521.3 302.3h.1M521.3 302.6h.1M529.1 297.0h.1M529.0 318.7h.1M521.0 303.3h.1M528.6 289.8h.1M522.1 290.6h.1M529.2 307.5h.1M522.0 311.0h.1M529.4 315.7h.1M528.8 306.8h.1M528.2 281.0h.1M521.3 312.1h.1M529.2 328.0h.1M529.2 340.8h.1M528.7 330.0h.1M521.5 291.8h.1M526.9 277.6h.1M528.6 328.9h.1M529.1 323.8h.1M528.5 280.3h.1M529.5 286.2h.1M521.8 337.1h.1M521.9 289.7h.1M528.7 314.0h.1M529.2 303.2h.1M529.4 312.0h.1M521.1 297.8h.1M528.9 332.2h.1M521.5 285.7h.1M529.3 302.5h.1M521.7 325.8h.1M521.6 332.2h.1M521.3 325.6h.1M523.6 277.1h.1M528.6 315.8h.1M528.9 291.8h.1M529.0 325.9h.1M521.1 327.1h.1M528.5 280.5h.1M555.4 285.8h.1M554.8 314.6h.1M554.1 326.7h.1M561.7 283.5h.1M555.5 281.5h.1M562.2 300.1h.1M562.6 290.3h.1M561.5 304.4h.1M554.2 327.6h.1M554.1 320.8h.1M554.8 326.4h.1M562.3 292.5h.1M555.1 283.1h.1M562.1 308.6h.1M554.1 299.3h.1M554.0 318.2h.1M561.1 282.1h.1M561.5 284.7h.1M562.3 328.5h.1M554.7 324.9h.1M562.5 321.7h.1M554.5 324.9h.1M562.3 329.8h.1M555.0 315.6h.1M562.4 327.2h.1M554.8 331.2h.1M554.0 307.2h.1M554.6 314.4h.1M562.4 327.3h.1M554.8 304.0h.1M562.2 320.4h.1M562.4 334.7h.1M560.1 279.3h.1M561.4 337.6h.1M561.6 316.3h.1M554.6 312.6h.1M554.7 331.0h.1M560.9 284.4h.1M562.2 333.8h.1M554.8 328.7h.1M562.4 317.6h.1M561.8 290.3h.1M554.8 288.3h.1M561.8 333.8h.1M554.0 298.6h.1M561.2 338.6h.1M557.1 279.0h.1M562.3 294.1h.1M561.6 320.7h.1M562.2 325.4h.1M561.1 283.7h.1M561.1 338.0h.1M562.6 322.7h.1M554.0 328.8h.1M562.3 309.7h.1M556.2 280.1h.1M554.2 306.6h.1M553.9 325.2h.1M553.9 308.7h.1M554.8 333.9h.1M553.9 335.5h.1M586.9 274.3h.1M587.4 261.7h.1M594.7 290.4h.1M594.0 244.3h.1M587.9 279.4h.1M587.4 294.6h.1M595.5 259.7h.1M587.7 275.2h.1M587.6 292.4h.1M588.7 304.2h.1M594.9 251.7h.1M594.2 244.5h.1M594.8 278.7h.1M594.0 302.9h.1M587.0 297.2h.1M594.4 303.4h.1M595.0 256.9h.1M594.6 268.7h.1M587.5 280.7h.1M587.9 258.9h.1M587.4 299.2h.1M587.0 253.3h.1M595.2 253.6h.1M588.3 302.5h.1M586.9 253.9h.1M595.0 282.4h.1M595.5 281.5h.1M587.1 260.4h.1M595.4 285.7h.1M595.3 293.1h.1M587.5 262.9h.1M595.5 298.3h.1M594.9 300.1h.1M586.9 294.2h.1M595.0 275.0h.1M595.1 254.1h.1M587.3 301.8h.1M594.9 302.3h.1M587.0 287.9h.1M587.8 295.5h.1M594.0 247.7h.1M587.4 293.7h.1M588.2 243.2h.1M594.9 262.6h.1M587.9 282.3h.1M594.8 253.8h.1M587.3 247.2h.1M595.3 269.2h.1M586.9 277.7h.1M587.1 251.5h.1M595.1 271.2h.1M594.8 248.2h.1M588.0 244.5h.1M587.5 298.6h.1M587.2 292.0h.1M587.7 289.0h.1M587.0 299.9h.1M588.9 242.9h.1M587.3 302.0h.1M593.4 243.3h.1M587.4 250.4h.1M588.3 303.0h.1M587.2 293.3h.1M595.4 261.6h.1M589.4 240.5h.1M654.6 158.1h.1M653.0 134.8h.1M660.5 143.0h.1M653.7 112.6h.1M661.0 150.4h.1M653.1 137.4h.1M660.6 133.8h.1M654.3 100.7h.1M654.6 101.3h.1M660.6 103.7h.1M661.4 128.3h.1M653.5 124.6h.1M653.3 121.2h.1M652.8 141.9h.1M661.2 125.3h.1M655.3 98.6h.1M661.1 109.7h.1M652.8 113.9h.1M654.6 101.2h.1M661.0 137.6h.1M653.3 107.9h.1M653.4 148.6h.1M653.8 137.1h.1M661.3 115.0h.1M660.5 104.8h.1M653.4 141.5h.1M660.7 142.4h.1M652.8 129.1h.1M653.5 153.1h.1M653.6 120.3h.1M652.9 108.7h.1M653.1 149.6h.1M653.8 126.0h.1M660.5 137.8h.1M659.2 98.5h.1M659.9 103.5h.1M661.0 104.0h.1M660.8 153.1h.1M653.9 104.0h.1M652.7 124.2h.1M653.2 131.1h.1M653.2 126.7h.1M660.4 150.7h.1M654.0 155.2h.1M660.5 107.3h.1M660.0 101.9h.1M654.2 155.4h.1M660.4 124.8h.1M660.3 114.1h.1M660.8 140.3h.1M653.1 107.9h.1M653.1 147.0h.1M653.2 139.3h.1M661.0 111.2h.1M660.4 105.3h.1M661.1 146.5h.1M661.0 149.9h.1M653.8 137.1h.1M653.3 125.1h.1M660.8 149.4h.1M653.5 105.4h.1M693.6 299.1h.1M693.4 329.9h.1M685.9 309.9h.1M693.6 331.5h.1M693.5 344.6h.1M685.9 321.5h.1M687.1 344.9h.1M693.3 336.5h.1M693.3 279.8h.1M686.5 338.3h.1M692.2 276.2h.1M685.8 294.8h.1M685.9 335.5h.1M688.6 275.4h.1M686.7 340.1h.1M685.7 283.3h.1M693.2 285.8h.1M693.7 300.3h.1M693.5 309.7h.1M693.3 342.0h.1M686.4 281.7h.1M693.6 294.1h.1M686.0 310.6h.1M687.2 346.5h.1M693.6 335.7h.1M686.4 326.9h.1M692.5 280.3h.1M685.8 317.4h.1M694.1 307.7h.1M685.8 291.8h.1M693.3 309.2h.1M686.6 289.0h.1M685.8 320.9h.1M694.0 311.3h.1M688.0 277.3h.1M693.9 296.1h.1M685.6 340.2h.1M691.7 347.0h.1M693.1 279.6h.1M693.6 334.8h.1M693.2 312.9h.1M686.4 319.1h.1M686.6 298.6h.1M686.2 342.4h.1M685.8 289.4h.1M694.0 327.0h.1M694.1 309.5h.1M686.3 282.8h.1M686.4 306.7h.1M686.2 323.4h.1M694.1 336.6h.1M694.1 301.9h.1M693.9 327.4h.1M693.0 282.7h.1M686.7 341.7h.1M687.8 345.9h.1M686.4 324.5h.1M692.8 280.0h.1M693.4 281.3h.1M686.7 326.8h.1M686.1 340.8h.1M693.3 325.7h.1M693.4 313.5h.1M694.0 287.6h.1M686.2 301.3h.1M686.4 314.9h.1M693.7 328.6h.1M693.5 344.2h.1M685.9 303.5h.1M685.7 284.5h.1M694.1 310.6h.1M692.6 277.1h.1M719.1 314.2h.1M726.1 308.5h.1M727.1 325.0h.1M719.0 286.5h.1M719.4 290.7h.1M718.5 287.1h.1M718.8 321.7h.1M719.3 321.1h.1M719.1 329.1h.1M720.7 276.1h.1M726.2 332.8h.1M718.5 305.1h.1M718.5 297.3h.1M726.5 290.4h.1M726.2 303.6h.1M719.5 289.8h.1M719.0 313.3h.1M727.1 287.6h.1M726.6 324.7h.1M719.1 293.5h.1M719.4 308.2h.1M727.2 298.3h.1M726.9 301.5h.1M726.8 297.2h.1M719.6 305.5h.1M726.5 325.7h.1M727.2 315.9h.1M719.0 315.2h.1M718.5 318.0h.1M726.9 285.2h.1M726.8 301.2h.1M727.0 318.9h.1M726.8 285.9h.1M718.6 294.1h.1M718.9 326.7h.1M726.6 327.1h.1M719.2 299.0h.1M726.8 309.7h.1M726.4 306.2h.1M726.1 314.6h.1M719.2 326.6h.1M719.3 333.8h.1M726.2 297.0h.1M719.6 319.7h.1M719.5 289.3h.1M719.1 290.4h.1M718.8 283.7h.1M718.7 310.9h.1M719.6 285.4h.1M726.6 307.5h.1M718.9 315.9h.1M720.6 337.8h.1M719.6 286.2h.1M719.5 320.8h.1M719.4 286.3h.1M719.2 298.7h.1M725.3 338.0h.1M726.3 301.9h.1M720.5 337.7h.1M726.8 332.5h.1M726.7 317.5h.1M718.7 319.1h.1M719.1 310.6h.1M751.9 252.0h.1M751.5 267.7h.1M759.5 299.4h.1M759.1 258.9h.1M759.1 273.6h.1M759.4 298.6h.1M752.3 248.9h.1M759.4 259.8h.1M759.9 276.8h.1M759.1 262.1h.1M759.6 259.9h.1M759.1 302.6h.1M752.0 301.4h.1M752.1 297.1h.1M759.3 280.5h.1M752.0 287.3h.1M752.3 255.2h.1M751.6 274.3h.1M751.7 256.9h.1M751.8 301.2h.1M752.2 287.5h.1M752.4 304.3h.1M751.9 261.8h.1M752.5 264.2h.1M751.5 254.7h.1M751.4 256.1h.1M759.8 258.9h.1M752.5 266.4h.1M759.1 295.0h.1M759.6 289.6h.1M751.4 269.2h.1M758.1 305.5h.1M752.1 283.7h.1M752.1 265.2h.1M759.6 299.5h.1M752.4 252.1h.1M752.4 279.5h.1M751.9 274.0h.1M751.7 268.2h.1M752.3 256.9h.1M751.5 290.3h.1M751.5 264.6h.1M759.4 279.5h.1M751.4 290.8h.1M753.5 305.4h.1M751.8 274.0h.1M752.2 253.3h.1M752.1 291.4h.1M758.2 246.8h.1M759.2 291.7h.1M759.5 251.6h.1M751.9 301.5h.1M751.8 269.2h.1M751.6 273.7h.1M759.6 292.4h.1M751.9 263.2h.1M751.9 289.7h.1M752.0 252.5h.1M752.3 284.2h.1M751.8 271.7h.1M758.5 248.2h.1M759.4 285.8h.1M759.2 258.8h.1M759.0 267.4h.1M826.4 185.4h.1M826.2 192.5h.1M825.8 174.2h.1M818.1 204.6h.1M826.3 182.9h.1M817.2 162.7h.1M824.4 212.6h.1M816.9 169.6h.1M817.6 171.4h.1M817.7 163.8h.1M818.8 212.8h.1M825.9 171.9h.1M825.8 166.9h.1M826.4 184.6h.1M817.6 184.3h.1M823.6 160.7h.1M817.2 179.9h.1M818.0 198.7h.1M817.8 195.9h.1M817.8 172.4h.1M825.3 196.3h.1M817.5 195.4h.1M817.5 167.6h.1M823.1 221.6h.1M826.4 174.2h.1M825.5 174.9h.1M825.9 196.4h.1M825.6 192.2h.1M825.0 208.1h.1M824.1 160.8h.1M817.2 197.1h.1M824.3 212.2h.1M824.3 219.3h.1M818.4 206.4h.1M819.3 214.0h.1M819.1 216.1h.1M825.6 186.8h.1M825.9 203.5h.1M825.4 170.5h.1M817.8 178.0h.1M826.0 184.0h.1M825.6 194.7h.1M826.3 165.2h.1M825.4 182.7h.1M818.1 201.8h.1M825.5 185.9h.1M819.5 160.2h.1M825.6 187.7h.1M825.4 170.7h.1M819.6 216.8h.1M826.1 173.6h.1M825.5 201.9h.1M818.9 209.7h.1M817.7 170.8h.1M817.5 200.0h.1M824.8 207.8h.1M826.1 193.1h.1M825.6 166.9h.1M817.7 202.1h.1M825.2 206.1h.1M825.1 206.7h.1M817.1 194.1h.1M850.4 354.7h.1M857.3 357.5h.1M850.5 349.1h.1M858.9 304.4h.1M850.2 335.0h.1M859.1 316.9h.1M852.0 366.4h.1M850.9 299.2h.1M850.7 333.2h.1M858.5 303.4h.1M858.4 293.7h.1M855.8 286.7h.1M858.3 306.4h.1M850.8 304.9h.1M858.9 347.6h.1M850.9 350.1h.1M857.7 289.7h.1M857.0 362.4h.1M859.0 320.7h.1M858.5 334.3h.1M857.8 354.0h.1M850.9 290.7h.1M849.8 333.4h.1M850.9 328.1h.1M859.3 316.7h.1M857.0 287.8h.1M858.5 355.2h.1M858.1 357.8h.1M850.8 345.9h.1M850.2 318.7h.1M857.5 288.5h.1M850.5 329.0h.1M850.6 297.1h.1M858.8 351.0h.1M850.8 342.7h.1M849.8 346.1h.1M859.0 311.0h.1M859.2 336.8h.1M858.5 296.3h.1M856.5 365.3h.1M858.0 361.9h.1M858.6 312.9h.1M859.1 348.1h.1M858.5 334.4h.1M851.7 361.8h.1M858.5 348.7h.1M850.4 335.7h.1M852.3 363.0h.1M852.6 288.1h.1M859.2 322.8h.1M850.8 322.5h.1M858.1 351.8h.1M850.0 344.9h.1M858.3 316.3h.1M851.5 288.9h.1M850.7 353.0h.1M859.1 292.4h.1M858.9 320.6h.1M850.3 312.1h.1M856.6 366.1h.1M851.0 291.4h.1M850.3 291.9h.1M859.0 345.3h.1M858.2 310.2h.1M858.5 323.8h.1M850.8 309.0h.1M858.4 328.7h.1M859.0 296.0h.1M859.2 317.1h.1M849.8 328.4h.1M857.8 363.4h.1M851.6 356.3h.1M850.0 331.2h.1M850.6 332.1h.1M858.5 343.9h.1M850.5 336.8h.1M850.6 300.8h.1M850.8 351.8h.1M858.2 339.5h.1M858.6 302.2h.1M858.9 321.2h.1M892.2 356.6h.1M891.7 383.4h.1M889.7 319.8h.1M883.3 350.4h.1M883.3 359.5h.1M883.3 350.0h.1M883.7 352.2h.1M891.1 365.1h.1M891.9 386.6h.1M889.7 319.0h.1M891.5 337.9h.1M883.5 341.6h.1M892.1 360.7h.1M883.3 362.5h.1M883.1 386.9h.1M883.0 355.7h.1M884.6 391.9h.1M882.9 373.6h.1M882.9 337.7h.1M892.1 337.2h.1M891.8 376.4h.1M883.6 329.7h.1M892.2 358.6h.1M891.3 330.7h.1M892.2 361.9h.1M890.1 320.2h.1M884.8 322.8h.1M892.1 383.7h.1M883.5 371.4h.1M890.5 324.3h.1M883.2 342.2h.1M891.7 328.2h.1M883.6 329.9h.1M890.5 391.3h.1M888.6 318.9h.1M891.8 378.0h.1M892.2 383.1h.1M883.5 328.8h.1M882.8 371.6h.1M892.0 362.6h.1M883.7 365.5h.1M883.6 385.2h.1M883.6 372.6h.1M883.5 342.4h.1M892.0 326.4h.1M883.3 371.2h.1M891.8 326.0h.1M882.7 331.3h.1M888.8 319.3h.1M882.8 337.9h.1M891.2 350.4h.1M883.6 349.4h.1M892.0 379.7h.1M882.8 359.8h.1M890.6 324.0h.1M883.3 375.9h.1M882.8 353.1h.1M891.4 368.1h.1M882.7 366.9h.1M892.1 353.5h.1M891.5 338.6h.1M883.2 336.7h.1M883.3 333.5h.1M891.5 348.3h.1M882.7 328.3h.1M891.5 369.8h.1M891.6 328.7h.1M891.8 354.9h.1M882.7 366.8h.1M883.4 368.2h.1M885.4 395.3h.1M891.5 360.2h.1M883.3 382.8h.1M890.0 320.4h.1M883.7 372.7h.1M885.1 394.3h.1M891.7 334.5h.1M924.9 326.7h.1M925.0 356.9h.1M922.5 306.9h.1M924.1 338.5h.1M924.4 329.0h.1M924.3 338.2h.1M924.5 342.8h.1M916.3 329.0h.1M923.6 364.7h.1M925.0 336.1h.1M924.7 321.2h.1M915.8 311.8h.1M918.1 307.6h.1M924.4 349.4h.1M916.5 337.6h.1M924.6 345.9h.1M915.9 336.2h.1M923.0 308.1h.1M915.6 336.8h.1M915.7 346.2h.1M916.1 313.6h.1M915.6 327.0h.1M924.2 327.2h.1M915.6 355.4h.1M917.3 363.0h.1M915.9 337.9h.1M916.0 335.1h.1M916.7 311.9h.1M924.4 356.0h.1M916.4 310.5h.1M923.6 308.2h.1M924.9 335.3h.1M916.5 324.9h.1M915.7 316.9h.1M924.2 349.2h.1M915.6 352.4h.1M916.4 310.7h.1M922.5 306.4h.1M924.3 343.8h.1M922.9 307.3h.1M925.1 322.9h.1M916.5 353.2h.1M922.4 307.2h.1M916.2 332.1h.1M916.2 350.5h.1M916.3 343.2h.1M924.2 314.2h.1M924.9 355.6h.1M924.3 313.9h.1M916.6 310.9h.1M915.7 347.2h.1M915.6 338.4h.1M916.6 319.3h.1M916.6 320.3h.1M916.6 332.4h.1M915.8 336.2h.1M916.6 324.9h.1M924.9 349.4h.1M924.6 316.2h.1M925.1 318.9h.1M916.2 313.0h.1M924.7 313.0h.1M915.6 355.8h.1M924.7 347.3h.1" stroke="#C0C0C0" stroke-width="1.1" stroke-linecap="round" fill="none"/>
<path d="M163.3 86.1h.1M164.1 87.0h.1M163.4 87.4h.1M165.2 87.3h.1M164.9 85.3h.1M162.2 82.3h.1M165.2 86.6h.1M161.7 83.6h.1M162.5 81.4h.1M161.4 153.6h.1M161.4 153.2h.1M164.5 154.4h.1M161.7 155.3h.1M163.7 155.8h.1M194.6 269.2h.1M194.3 271.9h.1M194.4 270.6h.1M195.1 271.6h.1M197.9 267.3h.1M195.8 263.5h.1M196.3 269.7h.1M195.4 270.2h.1M195.2 272.4h.1M194.5 257.4h.1M196.7 268.4h.1M194.9 260.5h.1M195.0 271.3h.1M195.9 269.9h.1M197.7 257.8h.1M194.0 260.2h.1M195.2 256.4h.1M197.9 345.0h.1M196.5 344.1h.1M195.7 343.3h.1M197.6 346.1h.1M196.9 346.5h.1M229.1 268.0h.1M227.3 258.2h.1M230.4 266.0h.1M227.7 257.2h.1M231.0 268.8h.1M229.0 257.0h.1M230.9 269.0h.1M230.8 267.1h.1M230.5 264.2h.1M230.3 268.7h.1M228.6 268.4h.1M230.5 260.0h.1M227.8 268.6h.1M228.8 256.4h.1M228.5 334.6h.1M227.9 334.0h.1M230.8 335.1h.1M228.1 336.0h.1M261.9 233.3h.1M260.6 230.4h.1M261.3 233.2h.1M260.9 230.0h.1M261.0 228.6h.1M262.8 234.7h.1M260.2 233.2h.1M260.1 232.1h.1M262.5 227.8h.1M263.2 300.9h.1M261.3 300.6h.1M261.5 300.1h.1M262.7 302.0h.1M327.0 90.0h.1M326.5 90.0h.1M328.3 79.1h.1M329.1 84.5h.1M328.3 79.4h.1M328.4 85.1h.1M328.3 83.8h.1M326.6 84.1h.1M327.7 84.3h.1M326.1 82.6h.1M325.8 89.6h.1M329.7 82.3h.1M327.3 84.5h.1M328.5 77.2h.1M328.1 155.6h.1M327.0 155.0h.1M327.7 156.0h.1M359.8 269.7h.1M362.7 262.9h.1M360.4 272.3h.1M359.1 258.8h.1M359.6 262.1h.1M362.9 265.0h.1M361.6 272.5h.1M362.3 264.7h.1M362.7 269.5h.1M358.9 250.4h.1M359.6 269.5h.1M362.6 256.3h.1M362.4 258.2h.1M362.5 264.7h.1M359.0 270.5h.1M360.5 259.9h.1M362.1 272.5h.1M359.6 272.1h.1M361.3 272.3h.1M359.9 271.8h.1M362.8 265.3h.1M362.6 272.5h.1M359.7 259.7h.1M361.4 249.0h.1M360.6 347.4h.1M360.5 345.1h.1M359.0 345.6h.1M359.8 344.9h.1M361.1 346.2h.1M359.0 348.5h.1M362.4 344.7h.1M360.8 351.0h.1M393.3 265.4h.1M394.6 268.4h.1M395.3 271.0h.1M392.2 270.9h.1M391.5 268.6h.1M393.2 258.2h.1M392.9 268.8h.1M392.9 258.5h.1M395.7 264.0h.1M395.5 268.1h.1M393.2 265.9h.1M393.0 267.4h.1M392.7 267.9h.1M395.0 271.0h.1M392.0 270.0h.1M393.8 270.4h.1M394.2 254.5h.1M393.5 338.7h.1M392.5 339.3h.1M392.4 338.3h.1M393.5 340.0h.1M426.4 234.4h.1M427.4 231.6h.1M428.4 228.8h.1M428.1 231.3h.1M427.9 229.7h.1M426.6 234.8h.1M428.0 232.0h.1M427.1 224.7h.1M426.6 224.4h.1M427.4 232.6h.1M428.6 231.6h.1M426.4 234.6h.1M425.7 223.5h.1M427.1 302.2h.1M424.6 302.2h.1M425.6 303.0h.1M491.6 89.9h.1M491.2 84.4h.1M490.9 90.7h.1M494.1 86.7h.1M493.6 93.1h.1M491.5 87.4h.1M492.4 92.8h.1M491.0 86.3h.1M492.9 89.4h.1M492.8 91.9h.1M493.2 84.3h.1M494.1 159.7h.1M493.7 159.8h.1M491.1 160.7h.1M493.2 161.0h.1M523.8 276.1h.1M526.7 258.3h.1M523.2 270.7h.1M526.4 264.3h.1M524.1 275.9h.1M526.4 264.3h.1M525.5 261.4h.1M526.6 275.9h.1M525.4 264.5h.1M524.0 271.4h.1M523.4 276.3h.1M526.8 275.3h.1M525.1 264.8h.1M527.0 272.3h.1M523.7 256.4h.1M525.1 275.9h.1M527.0 263.0h.1M526.3 261.6h.1M524.5 264.3h.1M525.6 274.9h.1M527.3 275.4h.1M524.2 266.1h.1M524.6 254.2h.1M524.7 253.0h.1M526.0 346.9h.1M524.0 350.1h.1M524.0 346.3h.1M524.9 347.1h.1M524.7 346.0h.1M524.1 349.8h.1M525.5 349.7h.1M525.3 346.1h.1M524.4 354.0h.1M558.6 278.3h.1M558.8 256.8h.1M559.5 277.7h.1M558.5 279.0h.1M556.4 275.2h.1M558.9 258.2h.1M560.3 273.4h.1M560.0 276.0h.1M559.7 276.6h.1M556.3 273.3h.1M560.0 272.5h.1M559.6 278.1h.1M557.4 278.9h.1M559.0 272.8h.1M558.6 260.1h.1M559.5 257.3h.1M559.1 276.0h.1M560.0 277.3h.1M558.8 273.8h.1M557.8 259.2h.1M557.6 268.3h.1M559.5 276.7h.1M558.2 256.0h.1M560.1 340.6h.1M558.3 341.6h.1M556.8 341.1h.1M559.0 343.0h.1M591.2 233.7h.1M591.6 236.6h.1M589.3 234.1h.1M591.4 240.4h.1M590.7 239.6h.1M592.2 240.4h.1M592.6 240.4h.1M591.0 233.9h.1M591.8 240.3h.1M590.8 240.0h.1M590.4 230.5h.1M591.4 307.0h.1M589.4 306.1h.1M591.6 307.0h.1M655.7 95.4h.1M655.0 96.6h.1M656.4 96.3h.1M655.1 93.7h.1M658.6 94.9h.1M657.8 89.5h.1M658.8 96.1h.1M656.9 96.2h.1M658.3 95.5h.1M659.1 95.7h.1M655.0 89.3h.1M656.7 96.3h.1M657.4 90.2h.1M657.6 83.7h.1M692.0 261.3h.1M689.1 264.3h.1M691.5 259.9h.1M690.7 261.8h.1M687.8 275.0h.1M689.3 273.6h.1M688.9 257.4h.1M687.9 275.1h.1M688.8 246.6h.1M691.6 272.2h.1M689.1 249.3h.1M689.5 264.2h.1M691.9 272.8h.1M690.7 275.1h.1M691.1 258.7h.1M691.8 265.9h.1M690.6 256.0h.1M691.7 275.0h.1M688.4 274.3h.1M690.0 272.4h.1M689.7 272.1h.1M688.8 272.4h.1M690.7 260.6h.1M691.7 275.0h.1M689.2 274.2h.1M691.5 257.9h.1M691.6 249.0h.1M690.0 246.5h.1M691.2 353.8h.1M692.1 353.0h.1M689.8 354.3h.1M691.0 349.2h.1M691.0 352.9h.1M688.0 348.5h.1M691.7 347.5h.1M687.9 353.7h.1M689.7 355.0h.1M723.3 255.6h.1M722.4 273.0h.1M724.4 252.6h.1M723.1 254.0h.1M721.4 275.5h.1M723.7 272.1h.1M724.2 276.0h.1M722.9 259.8h.1M724.2 276.0h.1M723.6 271.5h.1M723.9 267.5h.1M724.9 271.6h.1M724.7 252.0h.1M722.0 266.0h.1M721.8 272.3h.1M724.1 254.5h.1M724.3 259.7h.1M723.7 250.2h.1M724.0 273.3h.1M723.3 274.2h.1M724.4 275.3h.1M721.9 269.7h.1M721.0 253.6h.1M724.0 253.2h.1M724.0 275.4h.1M723.0 249.7h.1M723.2 339.9h.1M724.8 339.5h.1M722.0 340.0h.1M753.8 241.6h.1M754.7 241.3h.1M755.2 237.0h.1M754.7 236.1h.1M757.6 241.6h.1M755.5 237.9h.1M756.1 241.7h.1M754.1 232.2h.1M755.5 241.6h.1M753.7 236.5h.1M757.9 241.3h.1M757.0 235.5h.1M756.3 229.7h.1M819.9 225.6h.1M819.6 225.2h.1M823.7 228.9h.1M820.6 226.4h.1M820.2 227.8h.1M821.7 227.6h.1M823.4 222.0h.1M823.1 223.8h.1M822.0 229.8h.1M856.6 375.8h.1M855.2 370.3h.1M854.1 372.2h.1M853.0 372.0h.1M853.8 374.6h.1M852.5 375.7h.1M855.4 368.2h.1M854.8 368.2h.1M853.9 368.9h.1M856.3 382.1h.1M853.8 373.4h.1M856.7 376.8h.1M853.2 385.8h.1M853.1 375.4h.1M856.3 368.3h.1M854.5 375.0h.1M854.7 384.9h.1M854.8 368.7h.1M855.9 389.2h.1M855.5 390.0h.1M889.4 309.2h.1M886.9 313.9h.1M885.6 318.7h.1M887.8 315.5h.1M889.6 316.4h.1M886.8 316.7h.1M886.0 316.7h.1M887.9 308.1h.1M887.1 315.2h.1M886.6 318.0h.1M887.2 315.9h.1M887.7 307.2h.1M886.9 306.7h.1M886.0 396.1h.1M888.7 398.6h.1M886.3 410.3h.1M887.2 407.3h.1M887.6 401.8h.1M885.5 396.1h.1M888.3 404.6h.1M889.3 399.1h.1M886.6 408.4h.1M887.7 396.1h.1M886.2 404.2h.1M887.4 396.1h.1M888.5 396.0h.1M886.5 403.6h.1M886.3 400.1h.1M886.0 396.9h.1M888.1 413.7h.1M921.5 371.7h.1M918.7 372.2h.1M920.0 371.3h.1M920.6 371.3h.1M919.9 371.0h.1M919.8 371.3h.1M921.3 376.0h.1" stroke="#C0C0C0" stroke-width="1.6" stroke-linecap="round" fill="none"/>
<path d="M146.5 102.4V155.4M143.3 102.4h6.4M143.3 155.4h6.4" stroke="#7F7F7F" stroke-width="2.2" fill="none" stroke-linecap="round"/>
<rect x="138.8" y="117.4" width="15.4" height="19.9" fill="#F28C8C" stroke="#7F7F7F" stroke-width="2.3" stroke-linejoin="round"/>
<path d="M138.8 129.1h15.4" stroke="#7F7F7F" stroke-width="1.7"/>
<path d="M146.5 118.3l4.3 7.2h-8.6z" fill="#fff" stroke="#7F7F7F" stroke-width=".6" stroke-linejoin="round"/>
<path d="M179.4 287.5V347.0M176.2 287.5h6.4M176.2 347.0h6.4" stroke="#7F7F7F" stroke-width="2.2" fill="none" stroke-linecap="round"/>
<rect x="171.7" y="302.0" width="15.4" height="19.6" fill="#9BC1E4" stroke="#7F7F7F" stroke-width="2.3" stroke-linejoin="round"/>
<path d="M171.7 312.0h15.4" stroke="#7F7F7F" stroke-width="1.7"/>
<path d="M179.4 302.5l4.3 7.2h-8.6z" fill="#fff" stroke="#7F7F7F" stroke-width=".6" stroke-linejoin="round"/>
<path d="M212.3 288.8V335.8M209.1 288.8h6.4M209.1 335.8h6.4" stroke="#7F7F7F" stroke-width="2.2" fill="none" stroke-linecap="round"/>
<rect x="204.6" y="302.0" width="15.4" height="15.1" fill="#A5D8A4" stroke="#7F7F7F" stroke-width="2.3" stroke-linejoin="round"/>
<path d="M204.6 309.9h15.4" stroke="#7F7F7F" stroke-width="1.7"/>
<path d="M212.3 300.1l4.3 7.2h-8.6z" fill="#fff" stroke="#7F7F7F" stroke-width=".6" stroke-linejoin="round"/>
<path d="M245.2 248.7V302.1M242.0 248.7h6.4M242.0 302.1h6.4" stroke="#7F7F7F" stroke-width="2.2" fill="none" stroke-linecap="round"/>
<rect x="237.5" y="264.0" width="15.4" height="19.7" fill="#FFBE7D" stroke="#7F7F7F" stroke-width="2.3" stroke-linejoin="round"/>
<path d="M237.5 275.2h15.4" stroke="#7F7F7F" stroke-width="1.7"/>
<path d="M245.2 264.5l4.3 7.2h-8.6z" fill="#fff" stroke="#7F7F7F" stroke-width=".6" stroke-linejoin="round"/>
<path d="M311.1 104.7V156.2M307.9 104.7h6.4M307.9 156.2h6.4" stroke="#7F7F7F" stroke-width="2.2" fill="none" stroke-linecap="round"/>
<rect x="303.4" y="120.2" width="15.4" height="19.7" fill="#F28C8C" stroke="#7F7F7F" stroke-width="2.3" stroke-linejoin="round"/>
<path d="M303.4 131.6h15.4" stroke="#7F7F7F" stroke-width="1.7"/>
<path d="M311.1 120.4l4.3 7.2h-8.6z" fill="#fff" stroke="#7F7F7F" stroke-width=".6" stroke-linejoin="round"/>
<path d="M344.0 289.0V351.2M340.8 289.0h6.4M340.8 351.2h6.4" stroke="#7F7F7F" stroke-width="2.2" fill="none" stroke-linecap="round"/>
<rect x="336.3" y="304.4" width="15.4" height="19.3" fill="#9BC1E4" stroke="#7F7F7F" stroke-width="2.3" stroke-linejoin="round"/>
<path d="M336.3 314.1h15.4" stroke="#7F7F7F" stroke-width="1.7"/>
<path d="M344.0 304.5l4.3 7.2h-8.6z" fill="#fff" stroke="#7F7F7F" stroke-width=".6" stroke-linejoin="round"/>
<path d="M376.9 292.1V341.0M373.7 292.1h6.4M373.7 341.0h6.4" stroke="#7F7F7F" stroke-width="2.2" fill="none" stroke-linecap="round"/>
<rect x="369.2" y="305.7" width="15.4" height="15.2" fill="#A5D8A4" stroke="#7F7F7F" stroke-width="2.3" stroke-linejoin="round"/>
<path d="M369.2 313.3h15.4" stroke="#7F7F7F" stroke-width="1.7"/>
<path d="M376.9 303.7l4.3 7.2h-8.6z" fill="#fff" stroke="#7F7F7F" stroke-width=".6" stroke-linejoin="round"/>
<path d="M409.8 251.0V302.7M406.6 251.0h6.4M406.6 302.7h6.4" stroke="#7F7F7F" stroke-width="2.2" fill="none" stroke-linecap="round"/>
<rect x="402.1" y="266.0" width="15.4" height="20.5" fill="#FFBE7D" stroke="#7F7F7F" stroke-width="2.3" stroke-linejoin="round"/>
<path d="M402.1 278.1h15.4" stroke="#7F7F7F" stroke-width="1.7"/>
<path d="M409.8 266.9l4.3 7.2h-8.6z" fill="#fff" stroke="#7F7F7F" stroke-width=".6" stroke-linejoin="round"/>
<path d="M475.7 109.2V161.2M472.5 109.2h6.4M472.5 161.2h6.4" stroke="#7F7F7F" stroke-width="2.2" fill="none" stroke-linecap="round"/>
<rect x="468.0" y="124.2" width="15.4" height="19.9" fill="#F28C8C" stroke="#7F7F7F" stroke-width="2.3" stroke-linejoin="round"/>
<path d="M468.0 135.9h15.4" stroke="#7F7F7F" stroke-width="1.7"/>
<path d="M475.7 124.7l4.3 7.2h-8.6z" fill="#fff" stroke="#7F7F7F" stroke-width=".6" stroke-linejoin="round"/>
<path d="M508.6 291.0V354.0M505.4 291.0h6.4M505.4 354.0h6.4" stroke="#7F7F7F" stroke-width="2.2" fill="none" stroke-linecap="round"/>
<rect x="500.9" y="305.5" width="15.4" height="20.3" fill="#9BC1E4" stroke="#7F7F7F" stroke-width="2.3" stroke-linejoin="round"/>
<path d="M500.9 315.8h15.4" stroke="#7F7F7F" stroke-width="1.7"/>
<path d="M508.6 306.3l4.3 7.2h-8.6z" fill="#fff" stroke="#7F7F7F" stroke-width=".6" stroke-linejoin="round"/>
<path d="M541.5 295.7V343.5M538.3 295.7h6.4M538.3 343.5h6.4" stroke="#7F7F7F" stroke-width="2.2" fill="none" stroke-linecap="round"/>
<rect x="533.8" y="309.1" width="15.4" height="15.0" fill="#A5D8A4" stroke="#7F7F7F" stroke-width="2.3" stroke-linejoin="round"/>
<path d="M533.8 316.9h15.4" stroke="#7F7F7F" stroke-width="1.7"/>
<path d="M541.5 307.3l4.3 7.2h-8.6z" fill="#fff" stroke="#7F7F7F" stroke-width=".6" stroke-linejoin="round"/>
<path d="M574.4 255.9V307.5M571.2 255.9h6.4M571.2 307.5h6.4" stroke="#7F7F7F" stroke-width="2.2" fill="none" stroke-linecap="round"/>
<rect x="566.7" y="270.8" width="15.4" height="19.5" fill="#FFBE7D" stroke="#7F7F7F" stroke-width="2.3" stroke-linejoin="round"/>
<path d="M566.7 282.5h15.4" stroke="#7F7F7F" stroke-width="1.7"/>
<path d="M574.4 271.0l4.3 7.2h-8.6z" fill="#fff" stroke="#7F7F7F" stroke-width=".6" stroke-linejoin="round"/>
<path d="M640.3 110.0V159.6M637.1 110.0h6.4M637.1 159.6h6.4" stroke="#7F7F7F" stroke-width="2.2" fill="none" stroke-linecap="round"/>
<rect x="632.6" y="124.9" width="15.4" height="18.6" fill="#F28C8C" stroke="#7F7F7F" stroke-width="2.3" stroke-linejoin="round"/>
<path d="M632.6 135.9h15.4" stroke="#7F7F7F" stroke-width="1.7"/>
<path d="M640.3 125.2l4.3 7.2h-8.6z" fill="#fff" stroke="#7F7F7F" stroke-width=".6" stroke-linejoin="round"/>
<path d="M673.2 290.9V355.9M670.0 290.9h6.4M670.0 355.9h6.4" stroke="#7F7F7F" stroke-width="2.2" fill="none" stroke-linecap="round"/>
<rect x="665.5" y="305.5" width="15.4" height="20.3" fill="#9BC1E4" stroke="#7F7F7F" stroke-width="2.3" stroke-linejoin="round"/>
<path d="M665.5 316.2h15.4" stroke="#7F7F7F" stroke-width="1.7"/>
<path d="M673.2 306.3l4.3 7.2h-8.6z" fill="#fff" stroke="#7F7F7F" stroke-width=".6" stroke-linejoin="round"/>
<path d="M706.1 295.4V339.3M702.9 295.4h6.4M702.9 339.3h6.4" stroke="#7F7F7F" stroke-width="2.2" fill="none" stroke-linecap="round"/>
<rect x="698.4" y="308.6" width="15.4" height="15.3" fill="#A5D8A4" stroke="#7F7F7F" stroke-width="2.3" stroke-linejoin="round"/>
<path d="M698.4 316.9h15.4" stroke="#7F7F7F" stroke-width="1.7"/>
<path d="M706.1 307.3l4.3 7.2h-8.6z" fill="#fff" stroke="#7F7F7F" stroke-width=".6" stroke-linejoin="round"/>
<path d="M739.0 256.7V306.1M735.8 256.7h6.4M735.8 306.1h6.4" stroke="#7F7F7F" stroke-width="2.2" fill="none" stroke-linecap="round"/>
<rect x="731.3" y="270.8" width="15.4" height="19.7" fill="#FFBE7D" stroke="#7F7F7F" stroke-width="2.3" stroke-linejoin="round"/>
<path d="M731.3 282.3h15.4" stroke="#7F7F7F" stroke-width="1.7"/>
<path d="M739.0 271.0l4.3 7.2h-8.6z" fill="#fff" stroke="#7F7F7F" stroke-width=".6" stroke-linejoin="round"/>
<path d="M804.9 164.2V232.4M801.7 164.2h6.4M801.7 232.4h6.4" stroke="#7F7F7F" stroke-width="2.2" fill="none" stroke-linecap="round"/>
<rect x="797.2" y="176.9" width="15.4" height="14.2" fill="#F28C8C" stroke="#7F7F7F" stroke-width="2.3" stroke-linejoin="round"/>
<path d="M797.2 183.1h15.4" stroke="#7F7F7F" stroke-width="1.7"/>
<path d="M804.9 177.5l4.3 7.2h-8.6z" fill="#fff" stroke="#7F7F7F" stroke-width=".6" stroke-linejoin="round"/>
<path d="M837.8 299.9V389.8M834.6 299.9h6.4M834.6 389.8h6.4" stroke="#7F7F7F" stroke-width="2.2" fill="none" stroke-linecap="round"/>
<rect x="830.1" y="315.3" width="15.4" height="22.5" fill="#9BC1E4" stroke="#7F7F7F" stroke-width="2.3" stroke-linejoin="round"/>
<path d="M830.1 325.8h15.4" stroke="#7F7F7F" stroke-width="1.7"/>
<path d="M837.8 317.5l4.3 7.2h-8.6z" fill="#fff" stroke="#7F7F7F" stroke-width=".6" stroke-linejoin="round"/>
<path d="M870.7 326.4V417.5M867.5 326.4h6.4M867.5 417.5h6.4" stroke="#7F7F7F" stroke-width="2.2" fill="none" stroke-linecap="round"/>
<rect x="863.0" y="341.3" width="15.4" height="18.6" fill="#A5D8A4" stroke="#7F7F7F" stroke-width="2.3" stroke-linejoin="round"/>
<path d="M863.0 350.5h15.4" stroke="#7F7F7F" stroke-width="1.7"/>
<path d="M870.7 342.7l4.3 7.2h-8.6z" fill="#fff" stroke="#7F7F7F" stroke-width=".6" stroke-linejoin="round"/>
<path d="M903.6 310.4V379.2M900.4 310.4h6.4M900.4 379.2h6.4" stroke="#7F7F7F" stroke-width="2.2" fill="none" stroke-linecap="round"/>
<rect x="895.9" y="323.0" width="15.4" height="14.4" fill="#FFBE7D" stroke="#7F7F7F" stroke-width="2.3" stroke-linejoin="round"/>
<path d="M895.9 330.5h15.4" stroke="#7F7F7F" stroke-width="1.7"/>
<path d="M903.6 322.8l4.3 7.2h-8.6z" fill="#fff" stroke="#7F7F7F" stroke-width=".6" stroke-linejoin="round"/>
<path d="M122.0 424.7h5M944 424.7h-4.5M122.0 414.8h5M944 414.8h-4.5M122.0 407.7h5M944 407.7h-4.5M122.0 402.3h5M944 402.3h-4.5M122.0 397.8h5M944 397.8h-4.5M122.0 394.0h5M944 394.0h-4.5M122.0 390.7h5M944 390.7h-4.5M122.0 387.8h5M944 387.8h-4.5M122.0 385.3h9.6M944 385.3h-9M122.0 368.3h5M944 368.3h-4.5M122.0 358.3h5M944 358.3h-4.5M122.0 351.3h5M944 351.3h-4.5M122.0 345.8h5M944 345.8h-4.5M122.0 341.3h5M944 341.3h-4.5M122.0 337.6h5M944 337.6h-4.5M122.0 334.3h5M944 334.3h-4.5M122.0 331.4h5M944 331.4h-4.5M122.0 328.8h9.6M944 328.8h-9M122.0 311.8h5M944 311.8h-4.5M122.0 301.9h5M944 301.9h-4.5M122.0 294.8h5M944 294.8h-4.5M122.0 289.4h5M944 289.4h-4.5M122.0 284.9h5M944 284.9h-4.5M122.0 281.1h5M944 281.1h-4.5M122.0 277.8h5M944 277.8h-4.5M122.0 275.0h5M944 275.0h-4.5M122.0 272.4h9.6M944 272.4h-9M122.0 255.4h5M944 255.4h-4.5M122.0 245.5h5M944 245.5h-4.5M122.0 238.4h5M944 238.4h-4.5M122.0 232.9h5M944 232.9h-4.5M122.0 228.5h5M944 228.5h-4.5M122.0 224.7h5M944 224.7h-4.5M122.0 221.4h5M944 221.4h-4.5M122.0 218.5h5M944 218.5h-4.5M122.0 215.9h9.6M944 215.9h-9M122.0 198.9h5M944 198.9h-4.5M122.0 189.0h5M944 189.0h-4.5M122.0 182.0h5M944 182.0h-4.5M122.0 176.5h5M944 176.5h-4.5M122.0 172.0h5M944 172.0h-4.5M122.0 168.2h5M944 168.2h-4.5M122.0 165.0h5M944 165.0h-4.5M122.0 162.1h5M944 162.1h-4.5M122.0 159.5h9.6M944 159.5h-9M122.0 142.5h5M944 142.5h-4.5M122.0 132.6h5M944 132.6h-4.5M122.0 125.5h5M944 125.5h-4.5M122.0 120.1h5M944 120.1h-4.5M122.0 115.6h5M944 115.6h-4.5M122.0 111.8h5M944 111.8h-4.5M122.0 108.5h5M944 108.5h-4.5M122.0 105.6h5M944 105.6h-4.5M122.0 103.1h9.6M944 103.1h-9M122.0 86.1h5M944 86.1h-4.5M122.0 76.1h5M944 76.1h-4.5M122.0 69.1h5M944 69.1h-4.5M122.0 63.6h5M944 63.6h-4.5M122.0 59.1h5M944 59.1h-4.5M122.0 55.4h5M944 55.4h-4.5M122.0 52.1h5M944 52.1h-4.5M122.0 49.2h5M944 49.2h-4.5M122.0 46.6h9.6M944 46.6h-9M122.0 29.6h5M944 29.6h-4.5M122.0 19.7h5M944 19.7h-4.5M122.0 12.6h5M944 12.6h-4.5M204.3 441.7v-9.5M368.9 441.7v-9.5M533.5 441.7v-9.5M698.1 441.7v-9.5M862.7 441.7v-9.5M146.5 6.6v9.8M187.7 6.6v9.8M220.6 6.6v9.8M261.7 6.6v9.8M311.1 6.6v9.8M352.3 6.6v9.8M385.2 6.6v9.8M426.3 6.6v9.8M475.7 6.6v9.8M516.9 6.6v9.8M549.8 6.6v9.8M590.9 6.6v9.8M640.3 6.6v9.8M681.5 6.6v9.8M714.4 6.6v9.8M755.5 6.6v9.8M804.9 6.6v9.8M846.1 6.6v9.8M879.0 6.6v9.8M920.1 6.6v9.8" stroke="#000" stroke-width="2.2" fill="none"/>
<path d="M122.15 441.7V6.6H946M121.05 441.7H946M945.0 6.6V441.7" stroke="#000" stroke-width="2.2" fill="none"/>
<rect x="133.6" y="20.6" width="421.1" height="40.7" fill="#fff" stroke="#000" stroke-width="1.3"/>
<rect x="137.7" y="24.8" width="57.3" height="28" fill="#F28C8C" stroke="#7F7F7F" stroke-width="2.2"/>
<text x="202.2" y="46.6" font-size="25">R<tspan font-size="17" dy="7.3" dx=".7">c</tspan></text>
<rect x="234.7" y="24.8" width="57.3" height="28" fill="#9BC1E4" stroke="#7F7F7F" stroke-width="2.2"/>
<text x="299.0" y="46.6" font-size="25">R<tspan font-size="17" dy="7.3" dx=".7">mx</tspan></text>
<rect x="347.4" y="24.8" width="57.0" height="28" fill="#A5D8A4" stroke="#7F7F7F" stroke-width="2.2"/>
<text x="412.5" y="46.6" font-size="25">R<tspan font-size="17" dy="7.3" dx=".7">my</tspan></text>
<rect x="460.3" y="24.8" width="57.1" height="28" fill="#FFBE7D" stroke="#7F7F7F" stroke-width="2.2"/>
<text x="525.3" y="46.6" font-size="25">R<tspan font-size="17" dy="7.3" dx=".7">e</tspan></text>
<text x="46.4" y="448.9" font-size="26" textLength="65.2" lengthAdjust="spacing">1E-09</text>
<text x="46.4" y="392.5" font-size="26" textLength="65.2" lengthAdjust="spacing">1E-08</text>
<text x="46.4" y="336.0" font-size="26" textLength="65.2" lengthAdjust="spacing">1E-07</text>
<text x="46.4" y="279.6" font-size="26" textLength="65.2" lengthAdjust="spacing">1E-06</text>
<text x="46.4" y="223.1" font-size="26" textLength="65.2" lengthAdjust="spacing">1E-05</text>
<text x="46.4" y="166.7" font-size="26" textLength="65.2" lengthAdjust="spacing">1E-04</text>
<text x="46.4" y="110.3" font-size="26" textLength="65.2" lengthAdjust="spacing">1E-03</text>
<text x="46.4" y="53.8" font-size="26" textLength="65.2" lengthAdjust="spacing">1E-02</text>
<text transform="translate(204.1 475.0) scale(.97 1)" font-size="29" text-anchor="middle">500</text>
<text transform="translate(368.7 475.0) scale(.97 1)" font-size="29" text-anchor="middle">1000</text>
<text transform="translate(533.3 475.0) scale(.97 1)" font-size="29" text-anchor="middle">2000</text>
<text transform="translate(697.9 475.0) scale(.97 1)" font-size="29" text-anchor="middle">3000</text>
<text transform="translate(862.5 475.0) scale(.97 1)" font-size="29" text-anchor="middle" letter-spacing=".7">True</text>
<text x="533.5" y="512.2" font-size="34.5" text-anchor="middle" textLength="147.4" lengthAdjust="spacing" stroke="#000" stroke-width=".6">Train size</text>
<text transform="translate(28.2 511) rotate(-90)" font-size="33.5" textLength="510.6" lengthAdjust="spacing" stroke="#000" stroke-width=".6">Residuals of conservation Equations</text>
</svg></body></html>
